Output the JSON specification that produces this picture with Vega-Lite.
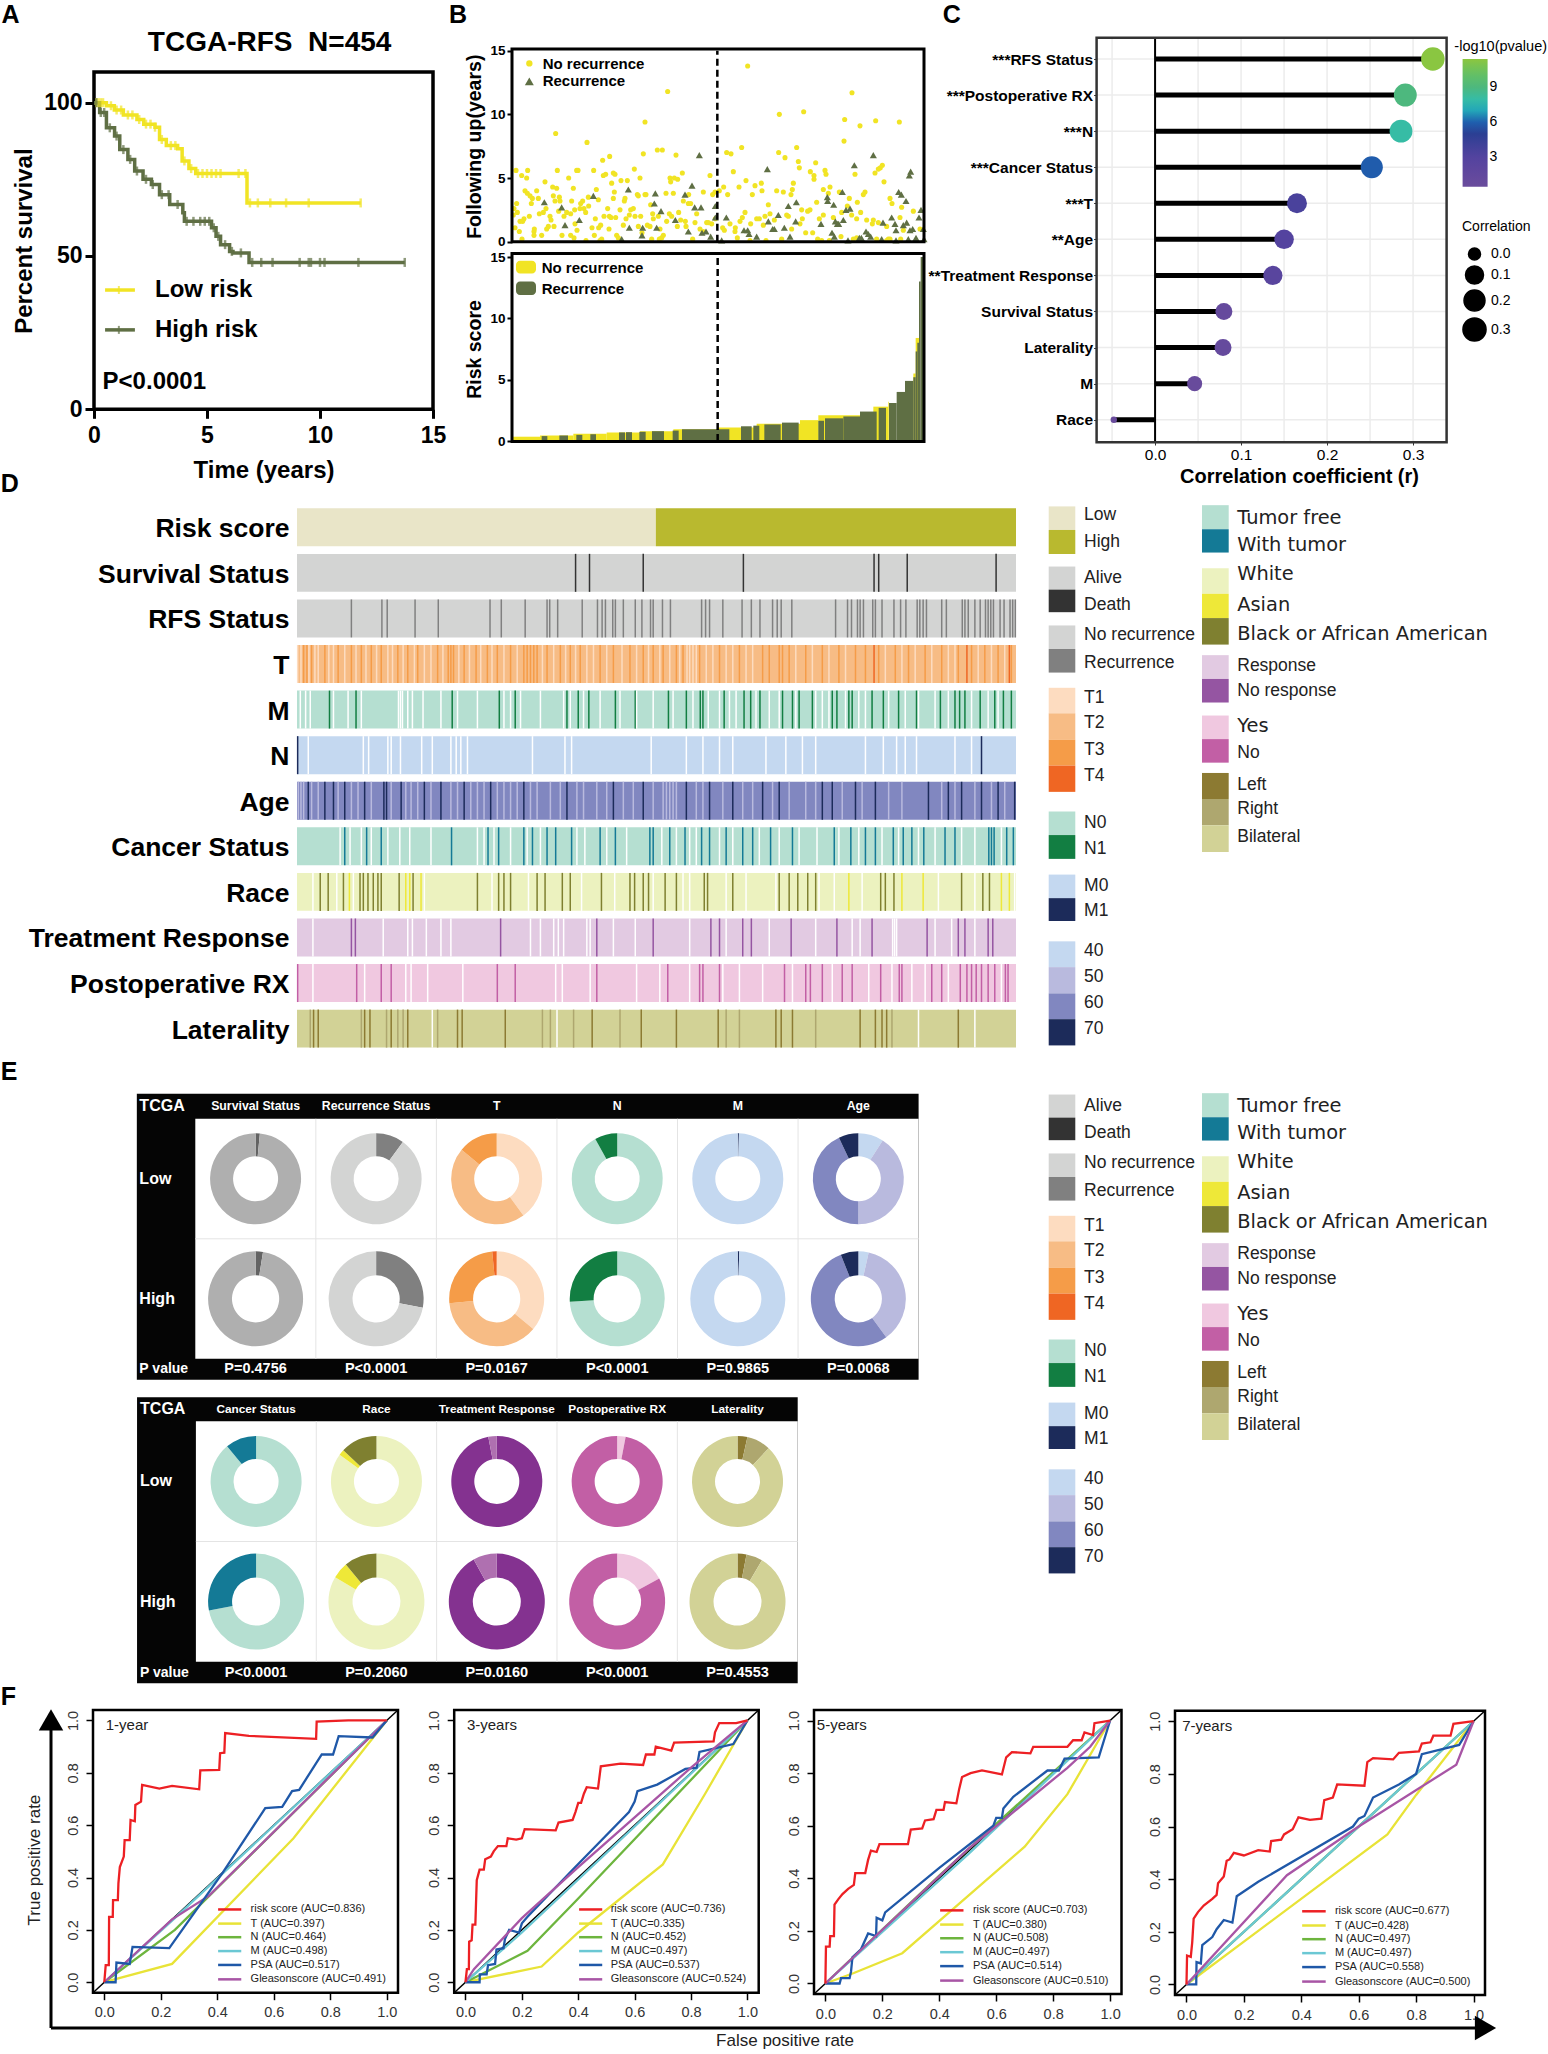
{"$schema":"https://vega.github.io/schema/vega-lite/v6.json","width":1548,"height":2054,"padding":0,"autosize":{"type":"none"},"background":"white",
"config":{"font":"Liberation Sans","view":{"stroke":null},"axis":{"grid":false,"domain":false,"labelFlush":false,"tickColor":"black","labelColor":"black","titleColor":"black"},"legend":{"labelColor":"black","titleColor":"black"}},
"resolve":{"scale":{"x":"independent","y":"independent","color":"independent","size":"independent","theta":"independent"},"axis":{"x":"independent","y":"independent"},"legend":{"color":"independent","size":"independent"}},
"datasets":{
"scN":[{"x":923,"y":13.8},{"x":683,"y":11.8},{"x":1236,"y":11.7},{"x":1091,"y":10.2},{"x":1018,"y":10},{"x":1214,"y":9.6},{"x":1307,"y":9.5},{"x":1378,"y":9.4},{"x":615,"y":9.4},{"x":1260,"y":9.1},{"x":347,"y":8.5},{"x":441,"y":7.8},{"x":1212,"y":7.9},{"x":652,"y":7.2},{"x":667,"y":7.2},{"x":610,"y":6.9},{"x":860,"y":7},{"x":873,"y":6.9},{"x":905,"y":7.4},{"x":708,"y":6.8},{"x":1016,"y":7},{"x":1070,"y":7.4},{"x":1035,"y":6.6},{"x":509,"y":6.7},{"x":488,"y":6.4},{"x":1075,"y":6.3},{"x":1127,"y":6.2},{"x":1078,"y":5.8},{"x":1327,"y":6},{"x":1321,"y":5.8},{"x":1315,"y":5.7},{"x":1305,"y":5.4},{"x":1245,"y":5.3},{"x":1111,"y":5.5},{"x":1122,"y":5.2},{"x":1155,"y":5.6},{"x":1158,"y":5.3},{"x":228,"y":5.6},{"x":263,"y":5.6},{"x":245,"y":5.2},{"x":260,"y":5},{"x":352,"y":5.6},{"x":410,"y":5.6},{"x":414,"y":5.6},{"x":461,"y":5.6},{"x":386,"y":5},{"x":497,"y":5.3},{"x":490,"y":5.2},{"x":520,"y":5.4},{"x":525,"y":5.3},{"x":583,"y":5.7},{"x":600,"y":5},{"x":690,"y":5},{"x":703,"y":5},{"x":713,"y":4.9},{"x":727,"y":5.4},{"x":810,"y":5.2},{"x":880,"y":5.5},{"x":918,"y":4.8},{"x":1122,"y":4.9},{"x":1060,"y":4.6},{"x":1332,"y":4.7},{"x":315,"y":4.7},{"x":338,"y":4.3},{"x":350,"y":4.2},{"x":400,"y":4.2},{"x":515,"y":4.6},{"x":543,"y":4.8},{"x":562,"y":4.8},{"x":692,"y":4.7},{"x":964,"y":4.6},{"x":945,"y":4.4},{"x":897,"y":4.3},{"x":851,"y":4.3},{"x":838,"y":4},{"x":825,"y":3.9},{"x":790,"y":3.9},{"x":818,"y":3.7},{"x":863,"y":3.7},{"x":255,"y":4},{"x":262,"y":3.8},{"x":270,"y":3.6},{"x":290,"y":4},{"x":277,"y":3.4},{"x":295,"y":3.4},{"x":274,"y":3},{"x":340,"y":3.6},{"x":345,"y":3.2},{"x":358,"y":3.5},{"x":360,"y":3.2},{"x":395,"y":3.2},{"x":428,"y":3.2},{"x":422,"y":3},{"x":445,"y":3.5},{"x":469,"y":4.1},{"x":475,"y":3.3},{"x":523,"y":3.9},{"x":520,"y":3.4},{"x":553,"y":3.2},{"x":555,"y":3.4},{"x":592,"y":3.7},{"x":595,"y":3.6},{"x":615,"y":3.7},{"x":618,"y":3.7},{"x":678,"y":3.8},{"x":700,"y":3.8},{"x":730,"y":3.2},{"x":745,"y":3},{"x":752,"y":3},{"x":746,"y":3.7},{"x":937,"y":3.7},{"x":966,"y":4},{"x":1010,"y":4},{"x":1030,"y":3.9},{"x":1053,"y":3.7},{"x":1057,"y":4.1},{"x":1150,"y":4.1},{"x":1170,"y":4.3},{"x":1165,"y":3.8},{"x":1198,"y":3.9},{"x":1275,"y":3.9},{"x":1270,"y":3.7},{"x":1350,"y":3.4},{"x":1356,"y":3},{"x":1130,"y":3.1},{"x":1252,"y":3.1},{"x":1228,"y":3.4},{"x":1222,"y":2.8},{"x":1385,"y":2.7},{"x":1420,"y":2.4},{"x":1262,"y":2.3},{"x":1235,"y":2.1},{"x":1250,"y":1.8},{"x":1280,"y":1.7},{"x":1300,"y":1.7},{"x":1315,"y":1.5},{"x":1340,"y":1.2},{"x":1380,"y":1.9},{"x":1390,"y":0.9},{"x":1440,"y":1},{"x":1297,"y":1.4},{"x":1205,"y":2.3},{"x":1180,"y":1.9},{"x":220,"y":2.1},{"x":222,"y":2.6},{"x":230,"y":3},{"x":232,"y":2.3},{"x":225,"y":1.1},{"x":238,"y":0.8},{"x":240,"y":1.6},{"x":248,"y":1.6},{"x":252,"y":1.8},{"x":246,"y":0.2},{"x":268,"y":2},{"x":283,"y":1},{"x":282,"y":0.8},{"x":282,"y":0.5},{"x":305,"y":0.5},{"x":298,"y":2.2},{"x":310,"y":2.3},{"x":318,"y":2.6},{"x":320,"y":1},{"x":325,"y":1.2},{"x":330,"y":2},{"x":333,"y":1.7},{"x":342,"y":1.2},{"x":356,"y":2.4},{"x":366,"y":0.5},{"x":372,"y":2},{"x":380,"y":2.3},{"x":392,"y":0.5},{"x":402,"y":0.3},{"x":392,"y":2.2},{"x":405,"y":1.4},{"x":411,"y":0.9},{"x":404,"y":2.5},{"x":420,"y":2.6},{"x":432,"y":2.6},{"x":437,"y":2.3},{"x":446,"y":2.8},{"x":438,"y":0.1},{"x":456,"y":1.1},{"x":463,"y":0.5},{"x":466,"y":1.8},{"x":476,"y":1.1},{"x":482,"y":1.3},{"x":480,"y":0.1},{"x":485,"y":0.2},{"x":492,"y":2},{"x":503,"y":2.6},{"x":508,"y":2},{"x":507,"y":1},{"x":513,"y":1.9},{"x":527,"y":1.9},{"x":530,"y":0.5},{"x":535,"y":0.3},{"x":540,"y":2.5},{"x":550,"y":1.3},{"x":558,"y":1.8},{"x":568,"y":2.1},{"x":572,"y":2.5},{"x":580,"y":2.6},{"x":585,"y":2},{"x":602,"y":2},{"x":595,"y":1.2},{"x":606,"y":0.7},{"x":622,"y":1.3},{"x":630,"y":1.2},{"x":632,"y":2.9},{"x":638,"y":2.2},{"x":640,"y":1.8},{"x":655,"y":2},{"x":660,"y":1},{"x":635,"y":0.2},{"x":658,"y":0.2},{"x":665,"y":0.3},{"x":670,"y":0.5},{"x":680,"y":1.6},{"x":688,"y":2.2},{"x":695,"y":2},{"x":712,"y":1.2},{"x":716,"y":2.3},{"x":722,"y":1.7},{"x":736,"y":1.6},{"x":738,"y":1.2},{"x":758,"y":0.2},{"x":765,"y":1.5},{"x":770,"y":2.2},{"x":780,"y":1},{"x":790,"y":0.8},{"x":800,"y":1.5},{"x":805,"y":1.5},{"x":815,"y":1.4},{"x":826,"y":1.8},{"x":848,"y":1.1},{"x":853,"y":0.9},{"x":870,"y":1.4},{"x":886,"y":1.1},{"x":885,"y":0.8},{"x":892,"y":0.3},{"x":900,"y":1.6},{"x":907,"y":1.9},{"x":915,"y":2.3},{"x":932,"y":1.4},{"x":930,"y":0.1},{"x":950,"y":1.8},{"x":958,"y":1.8},{"x":970,"y":1.3},{"x":978,"y":0.1},{"x":975,"y":2},{"x":985,"y":2.9},{"x":990,"y":2.2},{"x":1003,"y":1.7},{"x":1025,"y":0.2},{"x":1040,"y":2.1},{"x":1045,"y":2},{"x":1055,"y":1},{"x":1080,"y":1.4},{"x":1085,"y":2.5},{"x":1087,"y":1.8},{"x":1097,"y":0.7},{"x":1103,"y":2.4},{"x":1110,"y":2.5},{"x":1118,"y":0.7},{"x":1133,"y":0.2},{"x":1138,"y":1.8},{"x":1150,"y":2.1},{"x":1145,"y":0.1},{"x":1168,"y":0.1},{"x":1203,"y":0.4},{"x":1240,"y":0.2},{"x":1250,"y":0.3},{"x":1310,"y":0.2},{"x":1340,"y":0.1},{"x":1345,"y":0.2},{"x":1350,"y":0.2},{"x":1382,"y":0.2}],
"scR":[{"x":313,"y":3.1},{"x":365,"y":2.7},{"x":375,"y":1.3},{"x":418,"y":1.7},{"x":460,"y":3.6},{"x":545,"y":0.2},{"x":565,"y":4.1},{"x":568,"y":1.1},{"x":606,"y":0.5},{"x":608,"y":1.1},{"x":643,"y":3},{"x":646,"y":3.8},{"x":650,"y":1.1},{"x":663,"y":2.4},{"x":706,"y":1.7},{"x":735,"y":3.7},{"x":745,"y":0.8},{"x":756,"y":4.4},{"x":764,"y":2.7},{"x":783,"y":2.7},{"x":778,"y":6.8},{"x":786,"y":0.7},{"x":798,"y":0.8},{"x":812,"y":0.4},{"x":826,"y":2.8},{"x":826,"y":1.9},{"x":845,"y":0.1},{"x":859,"y":1.9},{"x":912,"y":0.9},{"x":923,"y":0.9},{"x":927,"y":0.6},{"x":950,"y":0.4},{"x":982,"y":5.7},{"x":985,"y":1.6},{"x":998,"y":1},{"x":1003,"y":1},{"x":1015,"y":2.1},{"x":1033,"y":1.1},{"x":1045,"y":2.8},{"x":1050,"y":0.4},{"x":1067,"y":1.6},{"x":1069,"y":3.1},{"x":1143,"y":1.4},{"x":1162,"y":3.5},{"x":1163,"y":3.2},{"x":1176,"y":0.7},{"x":1181,"y":2.9},{"x":1183,"y":0.4},{"x":1186,"y":1.6},{"x":1192,"y":1.4},{"x":1196,"y":1.4},{"x":1207,"y":3.9},{"x":1210,"y":1.7},{"x":1218,"y":2.5},{"x":1230,"y":2.6},{"x":1224,"y":0.1},{"x":1243,"y":6},{"x":1258,"y":0.3},{"x":1264,"y":0.3},{"x":1278,"y":0.8},{"x":1285,"y":0.6},{"x":1292,"y":0.4},{"x":1300,"y":6.8},{"x":1325,"y":0.2},{"x":1329,"y":1.5},{"x":1355,"y":1.9},{"x":1365,"y":1.4},{"x":1368,"y":0.9},{"x":1368,"y":0.1},{"x":1376,"y":3.9},{"x":1384,"y":3.7},{"x":1390,"y":1.3},{"x":1398,"y":3.2},{"x":1400,"y":1.5},{"x":1405,"y":0.2},{"x":1408,"y":5.2},{"x":1412,"y":5.5},{"x":1410,"y":0.9},{"x":1418,"y":1},{"x":1428,"y":0.3},{"x":1437,"y":1.9},{"x":1443,"y":2.5},{"x":1452,"y":0.2},{"x":1450,"y":1}],
"hb":[{"t":"R","c":"Low","x":448,"x2":989},{"t":"R","c":"High","x":989,"x2":1532},{"t":"S","c":"Alive","x":448,"x2":1532},{"t":"F","c":"NoRec","x":448,"x2":1532},{"t":"T","c":"T2","x":448,"x2":1532},{"t":"M","c":"N0","x":448,"x2":1532},{"t":"N","c":"M0","x":448,"x2":1532},{"t":"A","c":"a60","x":448,"x2":1532},{"t":"C","c":"TF","x":448,"x2":1532},{"t":"K","c":"White","x":448,"x2":1532},{"t":"X","c":"Resp","x":448,"x2":1532},{"t":"P","c":"Yes","x":448,"x2":1532},{"t":"L","c":"Bil","x":448,"x2":1532}],
"hs":[{"t":"S","c":"Death","x":868},{"t":"S","c":"Death","x":889},{"t":"S","c":"Death","x":970},{"t":"S","c":"Death","x":1121},{"t":"S","c":"Death","x":1318},{"t":"S","c":"Death","x":1325},{"t":"S","c":"Death","x":1368},{"t":"S","c":"Death","x":1502},
{"t":"F","c":"Rec","x":530},{"t":"F","c":"Rec","x":576},{"t":"F","c":"Rec","x":584},{"t":"F","c":"Rec","x":626},{"t":"F","c":"Rec","x":661},{"t":"F","c":"Rec","x":739},{"t":"F","c":"Rec","x":756},{"t":"F","c":"Rec","x":792},{"t":"F","c":"Rec","x":825},{"t":"F","c":"Rec","x":829},{"t":"F","c":"Rec","x":841},{"t":"F","c":"Rec","x":878},{"t":"F","c":"Rec","x":901},{"t":"F","c":"Rec","x":908},{"t":"F","c":"Rec","x":913},{"t":"F","c":"Rec","x":924},{"t":"F","c":"Rec","x":928},{"t":"F","c":"Rec","x":940},{"t":"F","c":"Rec","x":958},{"t":"F","c":"Rec","x":968},{"t":"F","c":"Rec","x":981},{"t":"F","c":"Rec","x":985},{"t":"F","c":"Rec","x":999},{"t":"F","c":"Rec","x":1011},{"t":"F","c":"Rec","x":1058},{"t":"F","c":"Rec","x":1064},{"t":"F","c":"Rec","x":1070},{"t":"F","c":"Rec","x":1090},{"t":"F","c":"Rec","x":1119},{"t":"F","c":"Rec","x":1133},{"t":"F","c":"Rec","x":1146},{"t":"F","c":"Rec","x":1165},{"t":"F","c":"Rec","x":1172},{"t":"F","c":"Rec","x":1178},{"t":"F","c":"Rec","x":1194},{"t":"F","c":"Rec","x":1260},{"t":"F","c":"Rec","x":1278},{"t":"F","c":"Rec","x":1284},{"t":"F","c":"Rec","x":1293},{"t":"F","c":"Rec","x":1297},{"t":"F","c":"Rec","x":1302},{"t":"F","c":"Rec","x":1316},{"t":"F","c":"Rec","x":1320},{"t":"F","c":"Rec","x":1330},{"t":"F","c":"Rec","x":1348},{"t":"F","c":"Rec","x":1358},{"t":"F","c":"Rec","x":1366},{"t":"F","c":"Rec","x":1383},{"t":"F","c":"Rec","x":1387},{"t":"F","c":"Rec","x":1392},{"t":"F","c":"Rec","x":1397},{"t":"F","c":"Rec","x":1420},{"t":"F","c":"Rec","x":1427},{"t":"F","c":"Rec","x":1451},{"t":"F","c":"Rec","x":1455},{"t":"F","c":"Rec","x":1460},{"t":"F","c":"Rec","x":1470},{"t":"F","c":"Rec","x":1478},{"t":"F","c":"Rec","x":1486},{"t":"F","c":"Rec","x":1490},{"t":"F","c":"Rec","x":1494},{"t":"F","c":"Rec","x":1498},{"t":"F","c":"Rec","x":1508},{"t":"F","c":"Rec","x":1514},{"t":"F","c":"Rec","x":1523},{"t":"F","c":"Rec","x":1527},{"t":"F","c":"Rec","x":1531},
{"t":"T","c":"T3","x":458},{"t":"T","c":"T3","x":463},{"t":"T","c":"T3","x":470},{"t":"T","c":"T3","x":490},{"t":"T","c":"T3","x":510},{"t":"T","c":"T3","x":530},{"t":"T","c":"T3","x":545},{"t":"T","c":"T3","x":560},{"t":"T","c":"T3","x":575},{"t":"T","c":"T3","x":600},{"t":"T","c":"T3","x":615},{"t":"T","c":"T3","x":630},{"t":"T","c":"T3","x":660},{"t":"T","c":"T3","x":676},{"t":"T","c":"T3","x":680},{"t":"T","c":"T3","x":684},{"t":"T","c":"T3","x":700},{"t":"T","c":"T3","x":718},{"t":"T","c":"T3","x":735},{"t":"T","c":"T3","x":750},{"t":"T","c":"T3","x":770},{"t":"T","c":"T3","x":790},{"t":"T","c":"T3","x":795},{"t":"T","c":"T3","x":800},{"t":"T","c":"T3","x":805},{"t":"T","c":"T3","x":810},{"t":"T","c":"T3","x":825},{"t":"T","c":"T3","x":845},{"t":"T","c":"T3","x":860},{"t":"T","c":"T3","x":875},{"t":"T","c":"T3","x":905},{"t":"T","c":"T3","x":925},{"t":"T","c":"T3","x":950},{"t":"T","c":"T3","x":970},{"t":"T","c":"T3","x":985},{"t":"T","c":"T3","x":1000},{"t":"T","c":"T3","x":1020},{"t":"T","c":"T3","x":1030},{"t":"T","c":"T3","x":1055},{"t":"T","c":"T3","x":1085},{"t":"T","c":"T3","x":1115},{"t":"T","c":"T3","x":1150},{"t":"T","c":"T3","x":1160},{"t":"T","c":"T3","x":1175},{"t":"T","c":"T3","x":1180},{"t":"T","c":"T3","x":1190},{"t":"T","c":"T3","x":1215},{"t":"T","c":"T3","x":1240},{"t":"T","c":"T3","x":1265},{"t":"T","c":"T3","x":1290},{"t":"T","c":"T3","x":1305},{"t":"T","c":"T3","x":1325},{"t":"T","c":"T3","x":1350},{"t":"T","c":"T3","x":1370},{"t":"T","c":"T3","x":1395},{"t":"T","c":"T3","x":1420},{"t":"T","c":"T3","x":1445},{"t":"T","c":"T3","x":1465},{"t":"T","c":"T3","x":1485},{"t":"T","c":"T3","x":1505},{"t":"T","c":"T3","x":1525},
{"t":"T","c":"T1","x":449},{"t":"T","c":"T1","x":454},{"t":"T","c":"T1","x":466},{"t":"T","c":"T1","x":475},{"t":"T","c":"T1","x":480},{"t":"T","c":"T1","x":496},{"t":"T","c":"T1","x":503},{"t":"T","c":"T1","x":520},{"t":"T","c":"T1","x":537},{"t":"T","c":"T1","x":552},{"t":"T","c":"T1","x":568},{"t":"T","c":"T1","x":585},{"t":"T","c":"T1","x":592},{"t":"T","c":"T1","x":608},{"t":"T","c":"T1","x":625},{"t":"T","c":"T1","x":640},{"t":"T","c":"T1","x":650},{"t":"T","c":"T1","x":668},{"t":"T","c":"T1","x":692},{"t":"T","c":"T1","x":708},{"t":"T","c":"T1","x":725},{"t":"T","c":"T1","x":742},{"t":"T","c":"T1","x":760},{"t":"T","c":"T1","x":780},{"t":"T","c":"T1","x":818},{"t":"T","c":"T1","x":835},{"t":"T","c":"T1","x":853},{"t":"T","c":"T1","x":868},{"t":"T","c":"T1","x":885},{"t":"T","c":"T1","x":895},{"t":"T","c":"T1","x":915},{"t":"T","c":"T1","x":938},{"t":"T","c":"T1","x":960},{"t":"T","c":"T1","x":978},{"t":"T","c":"T1","x":995},{"t":"T","c":"T1","x":1010},{"t":"T","c":"T1","x":1025},{"t":"T","c":"T1","x":1036},{"t":"T","c":"T1","x":1040},{"t":"T","c":"T1","x":1045},{"t":"T","c":"T1","x":1050},{"t":"T","c":"T1","x":1065},{"t":"T","c":"T1","x":1075},{"t":"T","c":"T1","x":1095},{"t":"T","c":"T1","x":1105},{"t":"T","c":"T1","x":1125},{"t":"T","c":"T1","x":1135},{"t":"T","c":"T1","x":1200},{"t":"T","c":"T1","x":1225},{"t":"T","c":"T1","x":1250},{"t":"T","c":"T1","x":1275},{"t":"T","c":"T1","x":1335},{"t":"T","c":"T1","x":1360},{"t":"T","c":"T1","x":1380},{"t":"T","c":"T1","x":1405},{"t":"T","c":"T1","x":1430},{"t":"T","c":"T1","x":1440},{"t":"T","c":"T1","x":1475},{"t":"T","c":"T1","x":1495},{"t":"T","c":"T1","x":1515},{"t":"T","c":"T4","x":1318},{"t":"T","c":"T4","x":1458},{"t":"T","c":"T4","x":1522},
{"t":"M","c":"N1","x":497},{"t":"M","c":"N1","x":537},{"t":"M","c":"N1","x":682},{"t":"M","c":"N1","x":753},{"t":"M","c":"N1","x":777},{"t":"M","c":"N1","x":855},{"t":"M","c":"N1","x":872},{"t":"M","c":"N1","x":888},{"t":"M","c":"N1","x":928},{"t":"M","c":"N1","x":958},{"t":"M","c":"N1","x":1008},{"t":"M","c":"N1","x":1035},{"t":"M","c":"N1","x":1056},{"t":"M","c":"N1","x":1060},{"t":"M","c":"N1","x":1092},{"t":"M","c":"N1","x":1122},{"t":"M","c":"N1","x":1132},{"t":"M","c":"N1","x":1146},{"t":"M","c":"N1","x":1180},{"t":"M","c":"N1","x":1195},{"t":"M","c":"N1","x":1205},{"t":"M","c":"N1","x":1225},{"t":"M","c":"N1","x":1255},{"t":"M","c":"N1","x":1262},{"t":"M","c":"N1","x":1280},{"t":"M","c":"N1","x":1285},{"t":"M","c":"N1","x":1315},{"t":"M","c":"N1","x":1332},{"t":"M","c":"N1","x":1355},{"t":"M","c":"N1","x":1382},{"t":"M","c":"N1","x":1418},{"t":"M","c":"N1","x":1440},{"t":"M","c":"N1","x":1447},{"t":"M","c":"N1","x":1455},{"t":"M","c":"N1","x":1478},{"t":"M","c":"N1","x":1500},{"t":"M","c":"N1","x":1513},{"t":"M","c":"N1","x":1525},
{"t":"M","c":"NA","x":453},{"t":"M","c":"NA","x":461},{"t":"M","c":"NA","x":468},{"t":"M","c":"NA","x":503},{"t":"M","c":"NA","x":525},{"t":"M","c":"NA","x":545},{"t":"M","c":"NA","x":601},{"t":"M","c":"NA","x":604},{"t":"M","c":"NA","x":607},{"t":"M","c":"NA","x":615},{"t":"M","c":"NA","x":622},{"t":"M","c":"NA","x":638},{"t":"M","c":"NA","x":665},{"t":"M","c":"NA","x":690},{"t":"M","c":"NA","x":720},{"t":"M","c":"NA","x":760},{"t":"M","c":"NA","x":770},{"t":"M","c":"NA","x":785},{"t":"M","c":"NA","x":815},{"t":"M","c":"NA","x":850},{"t":"M","c":"NA","x":860},{"t":"M","c":"NA","x":880},{"t":"M","c":"NA","x":905},{"t":"M","c":"NA","x":935},{"t":"M","c":"NA","x":960},{"t":"M","c":"NA","x":985},{"t":"M","c":"NA","x":1015},{"t":"M","c":"NA","x":1045},{"t":"M","c":"NA","x":1068},{"t":"M","c":"NA","x":1085},{"t":"M","c":"NA","x":1100},{"t":"M","c":"NA","x":1110},{"t":"M","c":"NA","x":1140},{"t":"M","c":"NA","x":1160},{"t":"M","c":"NA","x":1175},{"t":"M","c":"NA","x":1200},{"t":"M","c":"NA","x":1230},{"t":"M","c":"NA","x":1240},{"t":"M","c":"NA","x":1250},{"t":"M","c":"NA","x":1275},{"t":"M","c":"NA","x":1295},{"t":"M","c":"NA","x":1305},{"t":"M","c":"NA","x":1340},{"t":"M","c":"NA","x":1365},{"t":"M","c":"NA","x":1385},{"t":"M","c":"NA","x":1410},{"t":"M","c":"NA","x":1430},{"t":"M","c":"NA","x":1465},{"t":"M","c":"NA","x":1490},{"t":"M","c":"NA","x":1505},
{"t":"N","c":"M1","x":449},{"t":"N","c":"M1","x":1480},{"t":"N","c":"NA","x":465},{"t":"N","c":"NA","x":548},{"t":"N","c":"NA","x":556},{"t":"N","c":"NA","x":585},{"t":"N","c":"NA","x":590},{"t":"N","c":"NA","x":604},{"t":"N","c":"NA","x":636},{"t":"N","c":"NA","x":652},{"t":"N","c":"NA","x":680},{"t":"N","c":"NA","x":688},{"t":"N","c":"NA","x":695},{"t":"N","c":"NA","x":705},{"t":"N","c":"NA","x":803},{"t":"N","c":"NA","x":852},{"t":"N","c":"NA","x":862},{"t":"N","c":"NA","x":982},{"t":"N","c":"NA","x":1035},{"t":"N","c":"NA","x":1060},{"t":"N","c":"NA","x":1085},{"t":"N","c":"NA","x":1105},{"t":"N","c":"NA","x":1155},{"t":"N","c":"NA","x":1185},{"t":"N","c":"NA","x":1210},{"t":"N","c":"NA","x":1230},{"t":"N","c":"NA","x":1305},{"t":"N","c":"NA","x":1332},{"t":"N","c":"NA","x":1352},{"t":"N","c":"NA","x":1365},{"t":"N","c":"NA","x":1382},{"t":"N","c":"NA","x":1440},{"t":"N","c":"NA","x":1465},
{"t":"A","c":"a50","x":450},{"t":"A","c":"a50","x":454},{"t":"A","c":"a50","x":458},{"t":"A","c":"a50","x":470},{"t":"A","c":"a50","x":480},{"t":"A","c":"a50","x":510},{"t":"A","c":"a50","x":530},{"t":"A","c":"a50","x":540},{"t":"A","c":"a50","x":560},{"t":"A","c":"a50","x":590},{"t":"A","c":"a50","x":612},{"t":"A","c":"a50","x":620},{"t":"A","c":"a50","x":630},{"t":"A","c":"a50","x":650},{"t":"A","c":"a50","x":680},{"t":"A","c":"a50","x":690},{"t":"A","c":"a50","x":710},{"t":"A","c":"a50","x":720},{"t":"A","c":"a50","x":730},{"t":"A","c":"a50","x":750},{"t":"A","c":"a50","x":760},{"t":"A","c":"a50","x":770},{"t":"A","c":"a50","x":780},{"t":"A","c":"a50","x":800},{"t":"A","c":"a50","x":810},{"t":"A","c":"a50","x":830},{"t":"A","c":"a50","x":845},{"t":"A","c":"a50","x":870},{"t":"A","c":"a50","x":880},{"t":"A","c":"a50","x":900},{"t":"A","c":"a50","x":915},{"t":"A","c":"a50","x":940},{"t":"A","c":"a50","x":955},{"t":"A","c":"a50","x":985},{"t":"A","c":"a50","x":1000},{"t":"A","c":"a50","x":1005},{"t":"A","c":"a50","x":1010},{"t":"A","c":"a50","x":1015},{"t":"A","c":"a50","x":1020},{"t":"A","c":"a50","x":1050},{"t":"A","c":"a50","x":1060},{"t":"A","c":"a50","x":1090},{"t":"A","c":"a50","x":1120},{"t":"A","c":"a50","x":1135},{"t":"A","c":"a50","x":1165},{"t":"A","c":"a50","x":1190},{"t":"A","c":"a50","x":1215},{"t":"A","c":"a50","x":1230},{"t":"A","c":"a50","x":1270},{"t":"A","c":"a50","x":1300},{"t":"A","c":"a50","x":1340},{"t":"A","c":"a50","x":1360},{"t":"A","c":"a50","x":1420},{"t":"A","c":"a50","x":1440},{"t":"A","c":"a50","x":1470},{"t":"A","c":"a50","x":1495},{"t":"A","c":"a50","x":1515},
{"t":"A","c":"a70","x":465},{"t":"A","c":"a70","x":490},{"t":"A","c":"a70","x":503},{"t":"A","c":"a70","x":520},{"t":"A","c":"a70","x":550},{"t":"A","c":"a70","x":579},{"t":"A","c":"a70","x":583},{"t":"A","c":"a70","x":605},{"t":"A","c":"a70","x":640},{"t":"A","c":"a70","x":665},{"t":"A","c":"a70","x":700},{"t":"A","c":"a70","x":740},{"t":"A","c":"a70","x":790},{"t":"A","c":"a70","x":855},{"t":"A","c":"a70","x":925},{"t":"A","c":"a70","x":970},{"t":"A","c":"a70","x":1035},{"t":"A","c":"a70","x":1070},{"t":"A","c":"a70","x":1105},{"t":"A","c":"a70","x":1150},{"t":"A","c":"a70","x":1175},{"t":"A","c":"a70","x":1240},{"t":"A","c":"a70","x":1255},{"t":"A","c":"a70","x":1290},{"t":"A","c":"a70","x":1320},{"t":"A","c":"a70","x":1400},{"t":"A","c":"a70","x":1430},{"t":"A","c":"a70","x":1450},{"t":"A","c":"a70","x":1480},{"t":"A","c":"a70","x":1505},{"t":"A","c":"a70","x":1530},
{"t":"C","c":"WT","x":520},{"t":"C","c":"WT","x":553},{"t":"C","c":"WT","x":575},{"t":"C","c":"WT","x":681},{"t":"C","c":"WT","x":736},{"t":"C","c":"WT","x":752},{"t":"C","c":"WT","x":790},{"t":"C","c":"WT","x":803},{"t":"C","c":"WT","x":825},{"t":"C","c":"WT","x":838},{"t":"C","c":"WT","x":862},{"t":"C","c":"WT","x":905},{"t":"C","c":"WT","x":928},{"t":"C","c":"WT","x":980},{"t":"C","c":"WT","x":985},{"t":"C","c":"WT","x":1010},{"t":"C","c":"WT","x":1033},{"t":"C","c":"WT","x":1058},{"t":"C","c":"WT","x":1070},{"t":"C","c":"WT","x":1095},{"t":"C","c":"WT","x":1120},{"t":"C","c":"WT","x":1135},{"t":"C","c":"WT","x":1162},{"t":"C","c":"WT","x":1195},{"t":"C","c":"WT","x":1258},{"t":"C","c":"WT","x":1283},{"t":"C","c":"WT","x":1305},{"t":"C","c":"WT","x":1320},{"t":"C","c":"WT","x":1347},{"t":"C","c":"WT","x":1362},{"t":"C","c":"WT","x":1375},{"t":"C","c":"WT","x":1393},{"t":"C","c":"WT","x":1425},{"t":"C","c":"WT","x":1440},{"t":"C","c":"WT","x":1491},{"t":"C","c":"WT","x":1495},{"t":"C","c":"WT","x":1499},{"t":"C","c":"WT","x":1518},{"t":"C","c":"WT","x":1528},
{"t":"C","c":"NA","x":513},{"t":"C","c":"NA","x":528},{"t":"C","c":"NA","x":545},{"t":"C","c":"NA","x":560},{"t":"C","c":"NA","x":585},{"t":"C","c":"NA","x":603},{"t":"C","c":"NA","x":618},{"t":"C","c":"NA","x":650},{"t":"C","c":"NA","x":720},{"t":"C","c":"NA","x":730},{"t":"C","c":"NA","x":745},{"t":"C","c":"NA","x":770},{"t":"C","c":"NA","x":795},{"t":"C","c":"NA","x":815},{"t":"C","c":"NA","x":870},{"t":"C","c":"NA","x":882},{"t":"C","c":"NA","x":915},{"t":"C","c":"NA","x":945},{"t":"C","c":"NA","x":998},{"t":"C","c":"NA","x":1020},{"t":"C","c":"NA","x":1040},{"t":"C","c":"NA","x":1050},{"t":"C","c":"NA","x":1085},{"t":"C","c":"NA","x":1105},{"t":"C","c":"NA","x":1145},{"t":"C","c":"NA","x":1175},{"t":"C","c":"NA","x":1205},{"t":"C","c":"NA","x":1232},{"t":"C","c":"NA","x":1265},{"t":"C","c":"NA","x":1295},{"t":"C","c":"NA","x":1330},{"t":"C","c":"NA","x":1355},{"t":"C","c":"NA","x":1385},{"t":"C","c":"NA","x":1410},{"t":"C","c":"NA","x":1450},{"t":"C","c":"NA","x":1470},{"t":"C","c":"NA","x":1510},
{"t":"K","c":"Black","x":483},{"t":"K","c":"Black","x":495},{"t":"K","c":"Black","x":518},{"t":"K","c":"Black","x":543},{"t":"K","c":"Black","x":548},{"t":"K","c":"Black","x":555},{"t":"K","c":"Black","x":563},{"t":"K","c":"Black","x":570},{"t":"K","c":"Black","x":575},{"t":"K","c":"Black","x":602},{"t":"K","c":"Black","x":623},{"t":"K","c":"Black","x":720},{"t":"K","c":"Black","x":752},{"t":"K","c":"Black","x":760},{"t":"K","c":"Black","x":770},{"t":"K","c":"Black","x":810},{"t":"K","c":"Black","x":822},{"t":"K","c":"Black","x":848},{"t":"K","c":"Black","x":860},{"t":"K","c":"Black","x":907},{"t":"K","c":"Black","x":950},{"t":"K","c":"Black","x":957},{"t":"K","c":"Black","x":970},{"t":"K","c":"Black","x":978},{"t":"K","c":"Black","x":1003},{"t":"K","c":"Black","x":1020},{"t":"K","c":"Black","x":1062},{"t":"K","c":"Black","x":1067},{"t":"K","c":"Black","x":1105},{"t":"K","c":"Black","x":1175},{"t":"K","c":"Black","x":1190},{"t":"K","c":"Black","x":1203},{"t":"K","c":"Black","x":1218},{"t":"K","c":"Black","x":1230},{"t":"K","c":"Black","x":1328},{"t":"K","c":"Black","x":1335},{"t":"K","c":"Black","x":1348},{"t":"K","c":"Black","x":1450},{"t":"K","c":"Black","x":1482},{"t":"K","c":"Black","x":1492},
{"t":"K","c":"Asian","x":527},{"t":"K","c":"Asian","x":612},{"t":"K","c":"Asian","x":618},{"t":"K","c":"Asian","x":635},{"t":"K","c":"Asian","x":1280},{"t":"K","c":"Asian","x":1360},{"t":"K","c":"Asian","x":1392},{"t":"K","c":"Asian","x":1510},{"t":"K","c":"Asian","x":1522},{"t":"K","c":"NA","x":472},{"t":"K","c":"NA","x":508},{"t":"K","c":"NA","x":533},{"t":"K","c":"NA","x":640},{"t":"K","c":"NA","x":742},{"t":"K","c":"NA","x":797},{"t":"K","c":"NA","x":877},{"t":"K","c":"NA","x":927},{"t":"K","c":"NA","x":985},{"t":"K","c":"NA","x":1030},{"t":"K","c":"NA","x":1040},{"t":"K","c":"NA","x":1095},{"t":"K","c":"NA","x":1125},{"t":"K","c":"NA","x":1170},{"t":"K","c":"NA","x":1235},{"t":"K","c":"NA","x":1258},{"t":"K","c":"NA","x":1300},{"t":"K","c":"NA","x":1415},{"t":"K","c":"NA","x":1470},{"t":"K","c":"NA","x":1530},
{"t":"X","c":"NR","x":530},{"t":"X","c":"NR","x":536},{"t":"X","c":"NR","x":755},{"t":"X","c":"NR","x":900},{"t":"X","c":"NR","x":985},{"t":"X","c":"NR","x":1072},{"t":"X","c":"NR","x":1085},{"t":"X","c":"NR","x":1120},{"t":"X","c":"NR","x":1133},{"t":"X","c":"NR","x":1193},{"t":"X","c":"NR","x":1262},{"t":"X","c":"NR","x":1315},{"t":"X","c":"NR","x":1398},{"t":"X","c":"NR","x":1445},{"t":"X","c":"NR","x":1455},{"t":"X","c":"NR","x":1490},{"t":"X","c":"NR","x":1497},{"t":"X","c":"NA","x":472},{"t":"X","c":"NA","x":578},{"t":"X","c":"NA","x":615},{"t":"X","c":"NA","x":622},{"t":"X","c":"NA","x":643},{"t":"X","c":"NA","x":665},{"t":"X","c":"NA","x":680},{"t":"X","c":"NA","x":800},{"t":"X","c":"NA","x":815},{"t":"X","c":"NA","x":835},{"t":"X","c":"NA","x":842},{"t":"X","c":"NA","x":850},{"t":"X","c":"NA","x":885},{"t":"X","c":"NA","x":890},{"t":"X","c":"NA","x":925},{"t":"X","c":"NA","x":958},{"t":"X","c":"NA","x":1040},{"t":"X","c":"NA","x":1095},{"t":"X","c":"NA","x":1160},{"t":"X","c":"NA","x":1230},{"t":"X","c":"NA","x":1285},{"t":"X","c":"NA","x":1297},{"t":"X","c":"NA","x":1346},{"t":"X","c":"NA","x":1349},{"t":"X","c":"NA","x":1352},{"t":"X","c":"NA","x":1410},{"t":"X","c":"NA","x":1435},{"t":"X","c":"NA","x":1470},
{"t":"P","c":"No","x":449},{"t":"P","c":"No","x":538},{"t":"P","c":"No","x":575},{"t":"P","c":"No","x":590},{"t":"P","c":"No","x":750},{"t":"P","c":"No","x":777},{"t":"P","c":"No","x":900},{"t":"P","c":"No","x":1007},{"t":"P","c":"No","x":1055},{"t":"P","c":"No","x":1060},{"t":"P","c":"No","x":1085},{"t":"P","c":"No","x":1183},{"t":"P","c":"No","x":1215},{"t":"P","c":"No","x":1222},{"t":"P","c":"No","x":1240},{"t":"P","c":"No","x":1270},{"t":"P","c":"No","x":1285},{"t":"P","c":"No","x":1328},{"t":"P","c":"No","x":1356},{"t":"P","c":"No","x":1360},{"t":"P","c":"No","x":1405},{"t":"P","c":"No","x":1420},{"t":"P","c":"No","x":1448},{"t":"P","c":"No","x":1458},{"t":"P","c":"No","x":1465},{"t":"P","c":"No","x":1472},{"t":"P","c":"No","x":1480},{"t":"P","c":"No","x":1490},{"t":"P","c":"No","x":1500},{"t":"P","c":"No","x":1516},{"t":"P","c":"No","x":1520},{"t":"P","c":"NA","x":472},{"t":"P","c":"NA","x":550},{"t":"P","c":"NA","x":612},{"t":"P","c":"NA","x":620},{"t":"P","c":"NA","x":645},{"t":"P","c":"NA","x":698},{"t":"P","c":"NA","x":838},{"t":"P","c":"NA","x":848},{"t":"P","c":"NA","x":890},{"t":"P","c":"NA","x":960},{"t":"P","c":"NA","x":995},{"t":"P","c":"NA","x":1040},{"t":"P","c":"NA","x":1090},{"t":"P","c":"NA","x":1115},{"t":"P","c":"NA","x":1150},{"t":"P","c":"NA","x":1195},{"t":"P","c":"NA","x":1255},{"t":"P","c":"NA","x":1310},{"t":"P","c":"NA","x":1345},{"t":"P","c":"NA","x":1375},{"t":"P","c":"NA","x":1395},{"t":"P","c":"NA","x":1430},{"t":"P","c":"NA","x":1510},
{"t":"L","c":"Left","x":473},{"t":"L","c":"Left","x":480},{"t":"L","c":"Left","x":550},{"t":"L","c":"Left","x":558},{"t":"L","c":"Left","x":590},{"t":"L","c":"Left","x":615},{"t":"L","c":"Left","x":690},{"t":"L","c":"Left","x":697},{"t":"L","c":"Left","x":762},{"t":"L","c":"Left","x":893},{"t":"L","c":"Left","x":967},{"t":"L","c":"Left","x":1020},{"t":"L","c":"Left","x":1083},{"t":"L","c":"Left","x":1170},{"t":"L","c":"Left","x":1178},{"t":"L","c":"Left","x":1195},{"t":"L","c":"Left","x":1297},{"t":"L","c":"Left","x":1320},{"t":"L","c":"Left","x":1330},{"t":"L","c":"Left","x":1337},{"t":"L","c":"Left","x":1445},{"t":"L","c":"Right","x":468},{"t":"L","c":"Right","x":545},{"t":"L","c":"Right","x":583},{"t":"L","c":"Right","x":600},{"t":"L","c":"Right","x":608},{"t":"L","c":"Right","x":660},{"t":"L","c":"Right","x":818},{"t":"L","c":"Right","x":830},{"t":"L","c":"Right","x":865},{"t":"L","c":"Right","x":935},{"t":"L","c":"Right","x":1095},{"t":"L","c":"Right","x":1115},{"t":"L","c":"Right","x":1230},{"t":"L","c":"Right","x":1345},{"t":"L","c":"NA","x":652},{"t":"L","c":"NA","x":840},{"t":"L","c":"NA","x":1385},{"t":"L","c":"NA","x":1470}],
"lg":[{"g":1,"p":0,"q":1,"n":1.33,"a":0,"b":0.96,"m":0.34,"c":"Low","l":"Low"},{"g":1,"p":0,"q":1,"n":1.33,"a":0.96,"b":1.94,"m":1.44,"c":"High","l":"High"},{"g":1,"p":0,"q":1,"n":1.33,"a":2.45,"b":3.39,"m":2.93,"c":"Alive","l":"Alive"},{"g":1,"p":0,"q":1,"n":1.33,"a":3.39,"b":4.31,"m":4,"c":"Death","l":"Death"},{"g":1,"p":0,"q":1,"n":1.33,"a":4.85,"b":5.81,"m":5.23,"c":"NoRec","l":"No recurrence"},{"g":1,"p":0,"q":1,"n":1.33,"a":5.81,"b":6.77,"m":6.39,"c":"Rec","l":"Recurrence"},{"g":1,"p":0,"q":1,"n":1.33,"a":7.39,"b":8.43,"m":7.81,"c":"T1","l":"T1"},{"g":1,"p":0,"q":1,"n":1.33,"a":8.43,"b":9.5,"m":8.84,"c":"T2","l":"T2"},{"g":1,"p":0,"q":1,"n":1.33,"a":9.5,"b":10.56,"m":9.91,"c":"T3","l":"T3"},{"g":1,"p":0,"q":1,"n":1.33,"a":10.56,"b":11.63,"m":10.98,"c":"T4","l":"T4"},{"g":1,"p":0,"q":1,"n":1.33,"a":12.43,"b":13.39,"m":12.9,"c":"N0","l":"N0"},{"g":1,"p":0,"q":1,"n":1.33,"a":13.39,"b":14.36,"m":13.96,"c":"N1","l":"N1"},{"g":1,"p":0,"q":1,"n":1.33,"a":15,"b":15.96,"m":15.47,"c":"M0","l":"M0"},{"g":1,"p":0,"q":1,"n":1.33,"a":15.96,"b":16.89,"m":16.49,"c":"M1","l":"M1"},{"g":1,"p":0,"q":1,"n":1.33,"a":17.72,"b":18.77,"m":18.12,"c":"M0","l":"40"},{"g":1,"p":0,"q":1,"n":1.33,"a":18.77,"b":19.84,"m":19.16,"c":"a50","l":"50"},{"g":1,"p":0,"q":1,"n":1.33,"a":19.84,"b":20.89,"m":20.22,"c":"a60","l":"60"},{"g":1,"p":0,"q":1,"n":1.33,"a":20.89,"b":21.96,"m":21.29,"c":"a70","l":"70"},
{"g":2,"k":1,"p":0,"q":1,"n":1.32,"a":-0.05,"b":0.93,"m":0.48,"c":"TF","l":"Tumor free"},{"g":2,"k":1,"p":0,"q":1,"n":1.32,"a":0.93,"b":1.88,"m":1.56,"c":"WT","l":"With tumor"},{"g":2,"k":1,"p":0,"q":1,"n":1.32,"a":2.52,"b":3.56,"m":2.74,"c":"White","l":"White"},{"g":2,"k":1,"p":0,"q":1,"n":1.32,"a":3.56,"b":4.55,"m":4,"c":"Asian","l":"Asian"},{"g":2,"k":1,"p":0,"q":1,"n":1.32,"a":4.55,"b":5.63,"m":5.19,"c":"Black","l":"Black or African American"},{"g":2,"k":0,"p":0,"q":1,"n":1.32,"a":6.06,"b":7.03,"m":6.49,"c":"Resp","l":"Response"},{"g":2,"k":0,"p":0,"q":1,"n":1.32,"a":7.03,"b":7.99,"m":7.51,"c":"NR","l":"No response"},{"g":2,"k":1,"p":0,"q":1,"n":1.32,"a":8.52,"b":9.48,"m":8.96,"c":"Yes","l":"Yes"},{"g":2,"k":0,"p":0,"q":1,"n":1.32,"a":9.48,"b":10.44,"m":10.03,"c":"No","l":"No"},{"g":2,"k":0,"p":0,"q":1,"n":1.32,"a":10.86,"b":11.92,"m":11.33,"c":"Left","l":"Left"},{"g":2,"k":0,"p":0,"q":1,"n":1.32,"a":11.92,"b":12.99,"m":12.34,"c":"Right","l":"Right"},{"g":2,"k":0,"p":0,"q":1,"n":1.32,"a":12.99,"b":14.08,"m":13.48,"c":"Bil","l":"Bilateral"}],
"d1":[{"i":0.5,"r":0.5,"a":0,"b":1.5,"c":"Death2"},{"i":0.5,"r":0.5,"a":1.5,"b":100,"c":"Alive2"},{"i":0.5,"r":1.5,"a":0,"b":2.5,"c":"Death2"},{"i":0.5,"r":1.5,"a":2.5,"b":100,"c":"Alive2"},{"i":1.5,"r":0.5,"a":0,"b":10,"c":"Rec"},{"i":1.5,"r":0.5,"a":10,"b":100,"c":"NoRec"},{"i":1.5,"r":1.5,"a":0,"b":28,"c":"Rec"},{"i":1.5,"r":1.5,"a":28,"b":100,"c":"NoRec"},{"i":2.5,"r":0.5,"a":0,"b":40,"c":"T1"},{"i":2.5,"r":0.5,"a":40,"b":86,"c":"T2"},{"i":2.5,"r":0.5,"a":86,"b":100,"c":"T3"},{"i":2.5,"r":1.5,"a":0,"b":36,"c":"T1"},{"i":2.5,"r":1.5,"a":36,"b":73.5,"c":"T2"},{"i":2.5,"r":1.5,"a":73.5,"b":98.5,"c":"T3"},{"i":2.5,"r":1.5,"a":98.5,"b":100,"c":"T4"},{"i":3.5,"r":0.5,"a":0,"b":92,"c":"N0"},{"i":3.5,"r":0.5,"a":92,"b":100,"c":"N1"},{"i":3.5,"r":1.5,"a":0,"b":74,"c":"N0"},{"i":3.5,"r":1.5,"a":74,"b":100,"c":"N1"},{"i":4.5,"r":0.5,"a":0,"b":0.4,"c":"M1"},{"i":4.5,"r":0.5,"a":0.4,"b":100,"c":"M0"},{"i":4.5,"r":1.5,"a":0,"b":0.5,"c":"M1"},{"i":4.5,"r":1.5,"a":0.5,"b":100,"c":"M0"},{"i":5.5,"r":0.5,"a":0,"b":9,"c":"M0"},{"i":5.5,"r":0.5,"a":9,"b":50,"c":"a50"},{"i":5.5,"r":0.5,"a":50,"b":93,"c":"a60"},{"i":5.5,"r":0.5,"a":93,"b":100,"c":"a70"},{"i":5.5,"r":1.5,"a":0,"b":3.5,"c":"M0"},{"i":5.5,"r":1.5,"a":3.5,"b":40,"c":"a50"},{"i":5.5,"r":1.5,"a":40,"b":94,"c":"a60"},{"i":5.5,"r":1.5,"a":94,"b":100,"c":"a70"}],
"d2":[{"i":0.5,"r":0.5,"a":0,"b":89,"c":"TF"},{"i":0.5,"r":0.5,"a":89,"b":100,"c":"WT"},{"i":0.5,"r":1.5,"a":0,"b":72,"c":"TF"},{"i":0.5,"r":1.5,"a":72,"b":100,"c":"WT"},{"i":1.5,"r":0.5,"a":0,"b":85,"c":"White"},{"i":1.5,"r":0.5,"a":85,"b":87,"c":"Asian"},{"i":1.5,"r":0.5,"a":87,"b":100,"c":"Black"},{"i":1.5,"r":1.5,"a":0,"b":83.5,"c":"White"},{"i":1.5,"r":1.5,"a":83.5,"b":89,"c":"Asian"},{"i":1.5,"r":1.5,"a":89,"b":100,"c":"Black"},{"i":2.5,"r":0.5,"a":0,"b":97,"c":"NRd"},{"i":2.5,"r":0.5,"a":97,"b":100,"c":"Rd"},{"i":2.5,"r":1.5,"a":0,"b":92,"c":"NRd"},{"i":2.5,"r":1.5,"a":92,"b":100,"c":"Rd"},{"i":3.5,"r":0.5,"a":0,"b":3,"c":"Yes"},{"i":3.5,"r":0.5,"a":3,"b":100,"c":"No"},{"i":3.5,"r":1.5,"a":0,"b":17,"c":"Yes"},{"i":3.5,"r":1.5,"a":17,"b":100,"c":"No"},{"i":4.5,"r":0.5,"a":0,"b":3.5,"c":"Left"},{"i":4.5,"r":0.5,"a":3.5,"b":12,"c":"Right"},{"i":4.5,"r":0.5,"a":12,"b":100,"c":"Bil"},{"i":4.5,"r":1.5,"a":0,"b":3,"c":"Left"},{"i":4.5,"r":1.5,"a":3,"b":8.5,"c":"Right"},{"i":4.5,"r":1.5,"a":8.5,"b":100,"c":"Bil"}],
"rleg":[{"s":"risk","x":0.403,"x2":0.485,"y":0.278},{"s":"T","x":0.403,"x2":0.485,"y":0.224},{"s":"N","x":0.403,"x2":0.485,"y":0.172},{"s":"M","x":0.403,"x2":0.485,"y":0.119},{"s":"PSA","x":0.403,"x2":0.485,"y":0.066},{"s":"Gleason","x":0.403,"x2":0.485,"y":0.011}]
},
"layer":[
{"data":{"values":[{"l":"A","x":0.001,"y":0.0073},{"l":"B","x":0.29,"y":0.0073},{"l":"C","x":0.609,"y":0.0073},{"l":"D","x":0.0005,"y":0.2355},{"l":"E","x":0.0005,"y":0.522},{"l":"F","x":0.0005,"y":0.826}]},"mark":{"type":"text","fontSize":25,"fontWeight":"bold","align":"left","baseline":"middle","color":"black"},"encoding":{"x":{"field":"x","type":"quantitative","scale":{"domain":[0,1],"range":[0,1548]},"axis":null},"y":{"field":"y","type":"quantitative","scale":{"domain":[0,1],"range":[0,2054]},"axis":null},"text":{"field":"l"}}},
{"encoding":{"x":{"field":"x","type":"quantitative","scale":{"domain":[0,15],"range":[94,433]},"axis":{"orient":"bottom","offset":-1644.7,"values":[0,5,10,15],"title":"Time (years)","labelFontSize":23,"labelFontWeight":"bold","tickSize":9,"tickWidth":3,"labelPadding":6,"titleFontSize":24,"titleFontWeight":"bold","titlePadding":11}},"y":{"field":"y","type":"quantitative","scale":{"domain":[0,110],"range":[409.3,72]},"axis":{"orient":"left","offset":-94,"values":[0,50,100],"title":"Percent survival","labelFontSize":23,"labelFontWeight":"bold","tickSize":9,"tickWidth":3,"labelPadding":3,"titleFontSize":24,"titleFontWeight":"bold","titlePadding":7}}},
"layer":[
{"data":{"values":[{"x":0,"x2":15,"y":0,"y2":110}]},"mark":{"type":"rect","fillOpacity":0,"stroke":"black","strokeWidth":3.5},"encoding":{"x2":{"field":"x2"},"y2":{"field":"y2"}}},
{"data":{"values":[{"s":"L","x":0,"y":100},{"s":"L","x":0.55,"y":99},{"s":"L","x":0.9,"y":97.6},{"s":"L","x":1.3,"y":96},{"s":"L","x":1.9,"y":94.5},{"s":"L","x":2.2,"y":93},{"s":"L","x":2.7,"y":92},{"s":"L","x":2.9,"y":88},{"s":"L","x":3.2,"y":86},{"s":"L","x":3.7,"y":85},{"s":"L","x":3.9,"y":81},{"s":"L","x":4.2,"y":78.5},{"s":"L","x":4.5,"y":76.9},{"s":"L","x":6.77,"y":67.3},{"s":"L","x":11.8,"y":67.3},{"s":"H","x":0,"y":100},{"s":"H","x":0.25,"y":96.8},{"s":"H","x":0.55,"y":91.8},{"s":"H","x":0.91,"y":89.1},{"s":"H","x":1.14,"y":84.7},{"s":"H","x":1.5,"y":81.5},{"s":"H","x":1.8,"y":77.7},{"s":"H","x":2.17,"y":75},{"s":"H","x":2.54,"y":73.3},{"s":"H","x":2.9,"y":70},{"s":"H","x":3.35,"y":66.8},{"s":"H","x":3.93,"y":64.1},{"s":"H","x":4,"y":61.3},{"s":"H","x":5.2,"y":59.2},{"s":"H","x":5.4,"y":56.4},{"s":"H","x":5.6,"y":53.7},{"s":"H","x":6,"y":51.5},{"s":"H","x":6.15,"y":51},{"s":"H","x":6.86,"y":47.9},{"s":"H","x":13.75,"y":47.9}]},"mark":{"type":"line","interpolate":"step-after","strokeWidth":3.5},"encoding":{"color":{"field":"s","type":"nominal","scale":{"domain":["L","H"],"range":["#F1E424","#5F6F44"]},"legend":null}}},
{"data":{"values":[{"s":"L","x":0.1,"y":100},{"s":"L","x":0.2,"y":100},{"s":"L","x":0.3,"y":100},{"s":"L","x":0.4,"y":100},{"s":"L","x":0.75,"y":99},{"s":"L","x":1,"y":97.6},{"s":"L","x":1.2,"y":97.6},{"s":"L","x":1.5,"y":96},{"s":"L","x":1.7,"y":96},{"s":"L","x":2,"y":94.5},{"s":"L","x":2.3,"y":93},{"s":"L","x":2.5,"y":93},{"s":"L","x":2.7,"y":92},{"s":"L","x":3,"y":88},{"s":"L","x":3.4,"y":86},{"s":"L","x":3.6,"y":86},{"s":"L","x":4,"y":81},{"s":"L","x":4.3,"y":78.5},{"s":"L","x":4.6,"y":76.9},{"s":"L","x":4.8,"y":76.9},{"s":"L","x":5,"y":76.9},{"s":"L","x":5.2,"y":76.9},{"s":"L","x":5.4,"y":76.9},{"s":"L","x":5.6,"y":76.9},{"s":"L","x":6.4,"y":76.9},{"s":"L","x":6.7,"y":76.9},{"s":"L","x":6.9,"y":67.3},{"s":"L","x":7.25,"y":67.3},{"s":"L","x":7.8,"y":67.3},{"s":"L","x":8.5,"y":67.3},{"s":"L","x":9.5,"y":67.3},{"s":"L","x":11.8,"y":67.3},{"s":"H","x":0.1,"y":100},{"s":"H","x":0.3,"y":96.8},{"s":"H","x":0.45,"y":96.8},{"s":"H","x":0.7,"y":91.8},{"s":"H","x":1,"y":89.1},{"s":"H","x":1.3,"y":84.7},{"s":"H","x":1.6,"y":81.5},{"s":"H","x":1.9,"y":77.7},{"s":"H","x":2.3,"y":75},{"s":"H","x":2.6,"y":73.3},{"s":"H","x":3,"y":70},{"s":"H","x":3.3,"y":70},{"s":"H","x":3.7,"y":66.8},{"s":"H","x":4.1,"y":61.3},{"s":"H","x":4.4,"y":61.3},{"s":"H","x":4.7,"y":61.3},{"s":"H","x":4.9,"y":61.3},{"s":"H","x":5.1,"y":61.3},{"s":"H","x":5.3,"y":59.2},{"s":"H","x":5.5,"y":56.4},{"s":"H","x":5.8,"y":53.7},{"s":"H","x":6.1,"y":51.5},{"s":"H","x":6.5,"y":51},{"s":"H","x":7,"y":47.9},{"s":"H","x":7.4,"y":47.9},{"s":"H","x":7.9,"y":47.9},{"s":"H","x":9.1,"y":47.9},{"s":"H","x":9.5,"y":47.9},{"s":"H","x":9.6,"y":47.9},{"s":"H","x":10,"y":47.9},{"s":"H","x":10.2,"y":47.9},{"s":"H","x":11.7,"y":47.9},{"s":"H","x":13.75,"y":47.9}]},"mark":{"type":"tick","orient":"vertical","size":9,"thickness":2.5},"encoding":{"color":{"field":"s","type":"nominal","legend":null}}},
{"data":{"values":[{"s":"L","x":0.49,"x2":1.81,"y":38.9},{"s":"H","x":0.49,"x2":1.81,"y":25.9}]},"mark":{"type":"rule","strokeWidth":3.5},"encoding":{"x2":{"field":"x2"},"color":{"field":"s","type":"nominal","legend":null}}},
{"data":{"values":[{"x":1.1,"y":38.9,"s":"L"},{"x":1.1,"y":25.9,"s":"H"}]},"mark":{"type":"tick","orient":"vertical","size":8,"thickness":2},"encoding":{"color":{"field":"s","type":"nominal","legend":null}}},
{"data":{"values":[{"x":2.7,"y":38.9,"l":"Low risk"},{"x":2.7,"y":25.9,"l":"High risk"},{"x":0.38,"y":9,"l":"P<0.0001"}]},"mark":{"type":"text","fontSize":24,"fontWeight":"bold","align":"left","baseline":"middle","color":"black"},"encoding":{"text":{"field":"l"}}},
{"data":{"values":[{"x":7.77,"y":119.6,"l":"TCGA-RFS\u00a0\u00a0N=454"}]},"mark":{"type":"text","fontSize":28,"fontWeight":"bold","align":"center","baseline":"middle","color":"black"},"encoding":{"text":{"field":"l"}}}
]},
{"encoding":{"x":{"field":"x","type":"quantitative","scale":{"domain":[216,1452],"range":[512,924]},"axis":null},"y":{"field":"y","type":"quantitative","scale":{"domain":[0,15],"range":[241.7,50.7]},"axis":{"orient":"left","offset":-512,"values":[0,5,10,15],"title":"Following up(years)","labelFontSize":13.5,"labelFontWeight":"bold","tickSize":5,"tickWidth":2,"labelPadding":2,"titleFontSize":19.5,"titleFontWeight":"bold","titlePadding":5}}},
"layer":[
{"data":{"name":"scN"},"mark":{"type":"circle","size":26,"opacity":1,"color":"#F1E424"}},
{"data":{"name":"scR"},"mark":{"type":"point","shape":"triangle-up","size":50,"filled":true,"opacity":1,"color":"#5F6F44"}},
{"data":{"values":[{"x":832,"y":0,"y2":15}]},"mark":{"type":"rule","strokeDash":[7,4],"strokeWidth":2.5,"color":"black"},"encoding":{"y2":{"field":"y2"}}},
{"data":{"values":[{"x":216,"x2":1452,"y":0,"y2":15.13}]},"mark":{"type":"rect","fillOpacity":0,"stroke":"black","strokeWidth":3},"encoding":{"x2":{"field":"x2"},"y2":{"field":"y2"}}},
{"data":{"values":[{"x":268,"y":14}]},"mark":{"type":"circle","size":40,"opacity":1,"color":"#F1E424"}},
{"data":{"values":[{"x":268,"y":12.6}]},"mark":{"type":"point","shape":"triangle-up","size":80,"filled":true,"opacity":1,"color":"#5F6F44"}},
{"data":{"values":[{"x":308,"y":13.98,"l":"No recurrence"},{"x":308,"y":12.6,"l":"Recurrence"}]},"mark":{"type":"text","fontSize":15,"fontWeight":"bold","align":"left","baseline":"middle","color":"black"},"encoding":{"text":{"field":"l"}}}
]},
{"encoding":{"x":{"field":"x","type":"quantitative","scale":{"domain":[216,1452],"range":[512,924]},"axis":null},"y":{"field":"y","type":"quantitative","scale":{"domain":[0,15],"range":[441,257]},"axis":{"orient":"left","offset":-512,"values":[0,5,10,15],"title":"Risk score","labelFontSize":13.5,"labelFontWeight":"bold","tickSize":5,"tickWidth":2,"labelPadding":2,"titleFontSize":19.5,"titleFontWeight":"bold","titlePadding":5}}},
"layer":[
{"data":{"values":[{"x":216,"x2":300,"y":0.35,"c":"N"},{"x":300,"x2":400,"y":0.45,"c":"N"},{"x":400,"x2":500,"y":0.6,"c":"N"},{"x":500,"x2":600,"y":0.7,"c":"N"},{"x":600,"x2":700,"y":0.8,"c":"N"},{"x":700,"x2":832,"y":0.95,"c":"N"},{"x":832,"x2":950,"y":1.1,"c":"N"},{"x":950,"x2":1080,"y":1.4,"c":"N"},{"x":1080,"x2":1135,"y":1.7,"c":"N"},{"x":1135,"x2":1300,"y":2.1,"c":"N"},{"x":1300,"x2":1345,"y":2.8,"c":"N"},{"x":1345,"x2":1347,"y":3.2,"c":"N"},{"x":1420,"x2":1427,"y":5.5,"c":"N"},{"x":1427,"x2":1437,"y":8.4,"c":"N"},{"x":305,"x2":322,"y":0.4,"c":"R"},{"x":358,"x2":384,"y":0.45,"c":"R"},{"x":409,"x2":427,"y":0.5,"c":"R"},{"x":451,"x2":468,"y":0.55,"c":"R"},{"x":537,"x2":555,"y":0.7,"c":"R"},{"x":558,"x2":576,"y":0.72,"c":"R"},{"x":598,"x2":617,"y":0.75,"c":"R"},{"x":636,"x2":672,"y":0.8,"c":"R"},{"x":698,"x2":716,"y":0.85,"c":"R"},{"x":726,"x2":868,"y":0.95,"c":"R"},{"x":903,"x2":935,"y":1.2,"c":"R"},{"x":940,"x2":958,"y":1.25,"c":"R"},{"x":973,"x2":1022,"y":1.35,"c":"R"},{"x":1026,"x2":1076,"y":1.5,"c":"R"},{"x":1135,"x2":1152,"y":1.65,"c":"R"},{"x":1155,"x2":1210,"y":1.85,"c":"R"},{"x":1210,"x2":1260,"y":2,"c":"R"},{"x":1260,"x2":1310,"y":2.4,"c":"R"},{"x":1316,"x2":1338,"y":2.7,"c":"R"},{"x":1347,"x2":1370,"y":3.1,"c":"R"},{"x":1370,"x2":1395,"y":4,"c":"R"},{"x":1395,"x2":1420,"y":4.9,"c":"R"},{"x":1420,"x2":1427,"y":5.2,"c":"R"},{"x":1427,"x2":1432,"y":7.3,"c":"R"},{"x":1432,"x2":1437,"y":8,"c":"R"},{"x":1437,"x2":1442,"y":13,"c":"R"},{"x":1442,"x2":1452,"y":15,"c":"R"}]},"mark":{"type":"bar"},"encoding":{"x2":{"field":"x2"},"y2":{"datum":0},"color":{"field":"c","type":"nominal","scale":{"domain":["N","R"],"range":["#F1E424","#5F6F44"]},"legend":null}}},
{"data":{"values":[{"x":833,"y":0,"y2":15.2}]},"mark":{"type":"rule","strokeDash":[7,4],"strokeWidth":2.5,"color":"black"},"encoding":{"y2":{"field":"y2"}}},
{"data":{"values":[{"x":216,"x2":1452,"y":-0.05,"y2":15.28}]},"mark":{"type":"rect","fillOpacity":0,"stroke":"black","strokeWidth":3},"encoding":{"x2":{"field":"x2"},"y2":{"field":"y2"}}},
{"data":{"values":[{"x":228,"x2":288,"y":14.7,"y2":13.65,"c":"N"},{"x":228,"x2":288,"y":13,"y2":11.9,"c":"R"}]},"mark":{"type":"rect","cornerRadius":4},"encoding":{"x2":{"field":"x2"},"y2":{"field":"y2"},"color":{"field":"c","type":"nominal","legend":null}}},
{"data":{"values":[{"x":305,"y":14.1,"l":"No recurrence"},{"x":305,"y":12.4,"l":"Recurrence"}]},"mark":{"type":"text","fontSize":15,"fontWeight":"bold","align":"left","baseline":"middle","color":"black"},"encoding":{"text":{"field":"l"}}}
]},
{"encoding":{"x":{"field":"x","type":"quantitative","scale":{"domain":[-0.068,0.339],"range":[1096.6,1446.6]},"axis":null},"y":{"field":"y","type":"quantitative","scale":{"domain":[0,1],"range":[442.3,37.7]},"axis":null}},
"layer":[
{"data":{"values":[{"x":-0.05,"y":0,"y2":1},{"x":0.05,"y":0,"y2":1},{"x":0.1,"y":0,"y2":1},{"x":0.15,"y":0,"y2":1},{"x":0.2,"y":0,"y2":1},{"x":0.25,"y":0,"y2":1},{"x":0.3,"y":0,"y2":1}]},"mark":{"type":"rule","color":"#ececec","strokeWidth":1.5},"encoding":{"y2":{"field":"y2"}}},
{"data":{"values":[{"x":0.348,"y":0.977,"l":"-log10(pvalue)"}]},"mark":{"type":"text","fontSize":14.5,"align":"left","baseline":"middle","color":"black"},"encoding":{"text":{"field":"l"}}}
]},
{"data":{"values":[{"v":"***RFS Status","r":0.323,"z":0,"p":11.4},{"v":"***Postoperative RX","r":0.291,"z":0,"p":9},{"v":"***N","r":0.286,"z":0,"p":8},{"v":"***Cancer Status","r":0.252,"z":0,"p":5.9},{"v":"***T","r":0.165,"z":0,"p":3.5},{"v":"**Age","r":0.15,"z":0,"p":2.9},{"v":"**Treatment Response","r":0.137,"z":0,"p":2.4},{"v":"Survival Status","r":0.08,"z":0,"p":1.1},{"v":"Laterality","r":0.079,"z":0,"p":1.1},{"v":"M","r":0.046,"z":0,"p":0.7},{"v":"Race","r":-0.048,"z":0,"p":0.6}]},
"encoding":{"x":{"field":"r","type":"quantitative","scale":{"domain":[-0.068,0.339],"range":[1096.6,1446.6]},"axis":{"orient":"bottom","offset":-1612,"values":[0,0.1,0.2,0.3],"format":".1f","title":"Correlation coefficient (r)","titleX":1299,"labelFontSize":15.5,"tickSize":3,"tickColor":"#333","labelPadding":2,"titleFontSize":20,"titleFontWeight":"bold","titlePadding":4}},"y":{"field":"v","type":"nominal","sort":null,"scale":{"type":"point","padding":0,"domain":["***RFS Status","***Postoperative RX","***N","***Cancer Status","***T","**Age","**Treatment Response","Survival Status","Laterality","M","Race"],"range":[59,419.7]},"axis":{"orient":"left","offset":-1096.6,"title":null,"labelFontSize":15.5,"labelFontWeight":"bold","tickSize":3,"tickColor":"#333","labelPadding":1,"labelOverlap":false}}},
"layer":[
{"data":{"values":[{"v":"***RFS Status","r":-0.068,"z":0.339},{"v":"***Postoperative RX","r":-0.068,"z":0.339},{"v":"***N","r":-0.068,"z":0.339},{"v":"***Cancer Status","r":-0.068,"z":0.339},{"v":"***T","r":-0.068,"z":0.339},{"v":"**Age","r":-0.068,"z":0.339},{"v":"**Treatment Response","r":-0.068,"z":0.339},{"v":"Survival Status","r":-0.068,"z":0.339},{"v":"Laterality","r":-0.068,"z":0.339},{"v":"M","r":-0.068,"z":0.339},{"v":"Race","r":-0.068,"z":0.339}]},"mark":{"type":"rule","color":"#ececec","strokeWidth":1.5},"encoding":{"x2":{"field":"z"}}},
{"mark":{"type":"rule","color":"black","strokeWidth":5},"encoding":{"x2":{"field":"z"}}},
{"mark":{"type":"circle","opacity":1},"encoding":{"color":{"field":"p","type":"quantitative","scale":{"domain":[0.45,3,5,6,7,8,9,11.45],"range":["#6A4C9C","#53439F","#2B3F93","#1F5FAE","#23A6B8","#36BCA5","#4DB87E","#8CC63F"]},"legend":{"orient":"none","legendX":1462.6,"legendY":59,"title":null,"values":[3,6,9],"gradientLength":127.7,"gradientThickness":25,"labelFontSize":14,"tickCount":3}},"size":{"field":"r","type":"quantitative","scale":{"domain":[-0.05,0,0.1,0.2,0.33],"range":[36,144,324,440,560]},"legend":{"orient":"none","legendX":1462,"legendY":220,"title":"Correlation","titleFontSize":14,"titleFontWeight":"normal","titlePadding":13,"rowPadding":0,"values":[0,0.1,0.2,0.3],"format":".1f","labelFontSize":14,"symbolFillColor":"black","symbolStrokeColor":"black","symbolOpacity":1,"symbolType":"circle"}}}}
]},
{"encoding":{"x":{"field":"x","type":"quantitative","scale":{"domain":[-0.068,0.339],"range":[1096.6,1446.6]},"axis":null},"y":{"field":"y","type":"quantitative","scale":{"domain":[0,1],"range":[442.3,37.7]},"axis":null}},
"layer":[
{"data":{"values":[{"x":0,"y":0,"y2":1}]},"mark":{"type":"rule","color":"black","strokeWidth":2},"encoding":{"y2":{"field":"y2"}}},
{"data":{"values":[{"x":-0.068,"x2":0.339,"y":0,"y2":1}]},"mark":{"type":"rect","fillOpacity":0,"stroke":"#333","strokeWidth":2.5},"encoding":{"x2":{"field":"x2"},"y2":{"field":"y2"}}}
]},
{"resolve":{"scale":{"x":"independent","y":"independent","theta":"independent"},"axis":{"x":"independent","y":"independent"}},
"encoding":{"color":{"field":"c","type":"nominal","legend":null,"scale":{"domain":["Low","High","Alive","Death","NoRec","Rec","T1","T2","T3","T4","N0","N1","M0","M1","a50","a60","a70","TF","WT","White","Asian","Black","Resp","NR","Yes","No","Left","Right","Bil","NA","Alive2","Death2","NRd","Rd"],"range":["#E9E5C8","#B9B92F","#D3D4D3","#333333","#D3D4D3","#808080","#FDDCC0","#F7BC85","#F59C48","#EF6623","#B5DFD1","#127E42","#C4D8F0","#1C2B5A","#B9BADE","#8187C0","#1C2B5A","#B5DFD1","#147A96","#ECF2BF","#EEE838","#7F8030","#E2CAE2","#9555A2","#F0C8E0","#C25FA5","#8C7A32","#AEA76F","#D2D296","#FFFFFF","#AFAFAF","#636363","#843290","#AF70B0"]}}},
"layer":[
{"encoding":{"x":{"field":"x","type":"quantitative","scale":{"domain":[448,1532],"range":[297,1016]},"axis":null},"y":{"field":"t","type":"nominal","sort":null,"scale":{"type":"band","domain":["R","S","F","T","M","N","A","C","K","X","P","L"],"range":[508.3,1047.6],"paddingInner":0.167,"paddingOuter":0},"axis":{"orient":"left","offset":-297,"title":null,"ticks":false,"labelPadding":8,"labelOffset":2,"labelLimit":500,"labelFontSize":26.5,"labelFontWeight":"bold","labelExpr":"{'R':'Risk score','S':'Survival Status','F':'RFS Status','T':'T','M':'M','N':'N','A':'Age','C':'Cancer Status','K':'Race','X':'Treatment Response','P':'Postoperative RX','L':'Laterality'}[datum.label]"}}},
"layer":[
{"data":{"name":"hb"},"mark":"rect","encoding":{"x2":{"field":"x2"}}},
{"data":{"name":"hs"},"mark":{"type":"tick","thickness":1.5,"size":38,"opacity":1}}
]},
{"data":{"name":"lg"},"transform":[{"filter":"datum.g==1"}],"encoding":{"x":{"field":"p","type":"quantitative","scale":{"domain":[0,1],"range":[1048.7,1075.3]},"axis":null},"y":{"field":"a","type":"quantitative","scale":{"domain":[0,22],"range":[506.4,1046.4]},"axis":null}},"layer":[
{"mark":"rect","encoding":{"x2":{"field":"q"},"y2":{"field":"b"}}},
{"mark":{"type":"text","fontSize":17.5,"align":"left","baseline":"middle"},"encoding":{"x":{"field":"n","type":"quantitative","axis":null},"y":{"field":"m","type":"quantitative","axis":null},"text":{"field":"l"},"color":{"value":"#222"}}}]},
{"data":{"name":"lg"},"transform":[{"filter":"datum.g==2"}],"encoding":{"x":{"field":"p","type":"quantitative","scale":{"domain":[0,1],"range":[1202,1228.7]},"axis":null},"y":{"field":"a","type":"quantitative","scale":{"domain":[0,22],"range":[506.4,1046.4]},"axis":null}},"layer":[
{"mark":"rect","encoding":{"x2":{"field":"q"},"y2":{"field":"b"}}},
{"transform":[{"filter":"datum.k==0"}],"mark":{"type":"text","fontSize":17.5,"align":"left","baseline":"middle"},"encoding":{"x":{"field":"n","type":"quantitative","axis":null},"y":{"field":"m","type":"quantitative","axis":null},"text":{"field":"l"},"color":{"value":"#222"}}},
{"transform":[{"filter":"datum.k==1"}],"mark":{"type":"text","font":"DejaVu Sans","fontSize":19.4,"align":"left","baseline":"middle"},"encoding":{"x":{"field":"n","type":"quantitative","axis":null},"y":{"field":"m","type":"quantitative","axis":null},"text":{"field":"l"},"color":{"value":"#222"}}}]},
{"data":{"name":"lg"},"transform":[{"filter":"datum.g==1&&datum.a>=2"}],"encoding":{"x":{"field":"p","type":"quantitative","scale":{"domain":[0,1],"range":[1048.7,1075.3]},"axis":null},"y":{"field":"a","type":"quantitative","scale":{"domain":[0,22],"range":[1034.4,1574.4]},"axis":null}},"layer":[
{"mark":"rect","encoding":{"x2":{"field":"q"},"y2":{"field":"b"}}},
{"mark":{"type":"text","fontSize":17.5,"align":"left","baseline":"middle"},"encoding":{"x":{"field":"n","type":"quantitative","axis":null},"y":{"field":"m","type":"quantitative","axis":null},"text":{"field":"l"},"color":{"value":"#222"}}}]},
{"data":{"name":"lg"},"transform":[{"filter":"datum.g==2"}],"encoding":{"x":{"field":"p","type":"quantitative","scale":{"domain":[0,1],"range":[1202,1228.7]},"axis":null},"y":{"field":"a","type":"quantitative","scale":{"domain":[0,22],"range":[1094.4,1634.4]},"axis":null}},"layer":[
{"mark":"rect","encoding":{"x2":{"field":"q"},"y2":{"field":"b"}}},
{"transform":[{"filter":"datum.k==0"}],"mark":{"type":"text","fontSize":17.5,"align":"left","baseline":"middle"},"encoding":{"x":{"field":"n","type":"quantitative","axis":null},"y":{"field":"m","type":"quantitative","axis":null},"text":{"field":"l"},"color":{"value":"#222"}}},
{"transform":[{"filter":"datum.k==1"}],"mark":{"type":"text","font":"DejaVu Sans","fontSize":19.4,"align":"left","baseline":"middle"},"encoding":{"x":{"field":"n","type":"quantitative","axis":null},"y":{"field":"m","type":"quantitative","axis":null},"text":{"field":"l"},"color":{"value":"#222"}}}]},
{"encoding":{"x":{"field":"i","type":"quantitative","scale":{"domain":[0,6],"range":[195.3,918.6]},"axis":null},"y":{"field":"r","type":"quantitative","scale":{"domain":[0,2],"range":[1118.8,1358.8]},"axis":null}},"layer":[
{"data":{"values":[{"i":-0.485,"i2":6,"r":-0.208,"r2":2.175}]},"mark":"rect","encoding":{"x2":{"field":"i2"},"y2":{"field":"r2"},"color":{"value":"#050505"}}},
{"data":{"values":[{"i":0,"i2":6,"r":0,"r2":2}]},"mark":"rect","encoding":{"x2":{"field":"i2"},"y2":{"field":"r2"},"color":{"value":"#ffffff"}}},
{"data":{"values":[{"i":1,"r":0,"r2":2},{"i":2,"r":0,"r2":2},{"i":3,"r":0,"r2":2},{"i":4,"r":0,"r2":2},{"i":5,"r":0,"r2":2}]},"mark":{"type":"rule","strokeWidth":1},"encoding":{"y2":{"field":"r2"},"color":{"value":"#e4e4e4"}}},
{"data":{"values":[{"i":0,"i2":6,"r":1}]},"mark":{"type":"rule","strokeWidth":1},"encoding":{"x2":{"field":"i2"},"color":{"value":"#e4e4e4"}}},
{"data":{"name":"d1"},"encoding":{"theta":{"field":"a","type":"quantitative","scale":{"domain":[0,100],"range":[0,6.2832]}},"theta2":{"field":"b"}},"layer":[
{"transform":[{"filter":"datum.r<1"}],"mark":{"type":"arc","radius":45.5,"radius2":22.5}},
{"transform":[{"filter":"datum.r>1"}],"mark":{"type":"arc","radius":47.5,"radius2":23.6}}]},
{"data":{"values":[{"i":0.5,"r":-0.108,"l":"Survival Status"},{"i":1.5,"r":-0.108,"l":"Recurrence Status"},{"i":2.5,"r":-0.108,"l":"T"},{"i":3.5,"r":-0.108,"l":"N"},{"i":4.5,"r":-0.108,"l":"M"},{"i":5.5,"r":-0.108,"l":"Age"}]},"mark":{"type":"text","fontSize":12.3,"fontWeight":"bold","baseline":"middle"},"encoding":{"text":{"field":"l"},"color":{"value":"#ffffff"}}},
{"data":{"values":[{"i":0.5,"r":2.086,"l":"P=0.4756"},{"i":1.5,"r":2.086,"l":"P<0.0001"},{"i":2.5,"r":2.086,"l":"P=0.0167"},{"i":3.5,"r":2.086,"l":"P<0.0001"},{"i":4.5,"r":2.086,"l":"P=0.9865"},{"i":5.5,"r":2.086,"l":"P=0.0068"}]},"mark":{"type":"text","fontSize":14.5,"fontWeight":"bold","baseline":"middle"},"encoding":{"text":{"field":"l"},"color":{"value":"#ffffff"}}},
{"data":{"values":[{"i":-0.464,"r":-0.108,"l":"TCGA"},{"i":-0.464,"r":0.5,"l":"Low"},{"i":-0.464,"r":1.5,"l":"High"}]},"mark":{"type":"text","fontSize":16,"fontWeight":"bold","align":"left","baseline":"middle"},"encoding":{"text":{"field":"l"},"color":{"value":"#ffffff"}}},
{"data":{"values":[{"i":-0.464,"r":2.086,"l":"P value"}]},"mark":{"type":"text","fontSize":14,"fontWeight":"bold","align":"left","baseline":"middle"},"encoding":{"text":{"field":"l"},"color":{"value":"#ffffff"}}}
]},
{"encoding":{"x":{"field":"i","type":"quantitative","scale":{"domain":[0,5],"range":[195.9,797.7]},"axis":null},"y":{"field":"r","type":"quantitative","scale":{"domain":[0,2],"range":[1421.3,1661.7]},"axis":null}},"layer":[
{"data":{"values":[{"i":-0.489,"i2":5,"r":-0.2,"r2":2.18}]},"mark":"rect","encoding":{"x2":{"field":"i2"},"y2":{"field":"r2"},"color":{"value":"#050505"}}},
{"data":{"values":[{"i":0,"i2":5,"r":0,"r2":2}]},"mark":"rect","encoding":{"x2":{"field":"i2"},"y2":{"field":"r2"},"color":{"value":"#ffffff"}}},
{"data":{"values":[{"i":1,"r":0,"r2":2},{"i":2,"r":0,"r2":2},{"i":3,"r":0,"r2":2},{"i":4,"r":0,"r2":2}]},"mark":{"type":"rule","strokeWidth":1},"encoding":{"y2":{"field":"r2"},"color":{"value":"#e4e4e4"}}},
{"data":{"values":[{"i":0,"i2":5,"r":1}]},"mark":{"type":"rule","strokeWidth":1},"encoding":{"x2":{"field":"i2"},"color":{"value":"#e4e4e4"}}},
{"data":{"name":"d2"},"encoding":{"theta":{"field":"a","type":"quantitative","scale":{"domain":[0,100],"range":[0,6.2832]}},"theta2":{"field":"b"}},"layer":[
{"transform":[{"filter":"datum.r<1"}],"mark":{"type":"arc","radius":45.5,"radius2":22.5}},
{"transform":[{"filter":"datum.r>1"}],"mark":{"type":"arc","radius":48,"radius2":24}}]},
{"data":{"values":[{"i":0.5,"r":-0.1,"l":"Cancer Status"},{"i":1.5,"r":-0.1,"l":"Race"},{"i":2.5,"r":-0.1,"l":"Treatment Response"},{"i":3.5,"r":-0.1,"l":"Postoperative RX"},{"i":4.5,"r":-0.1,"l":"Laterality"}]},"mark":{"type":"text","fontSize":11.8,"fontWeight":"bold","baseline":"middle"},"encoding":{"text":{"field":"l"},"color":{"value":"#ffffff"}}},
{"data":{"values":[{"i":0.5,"r":2.09,"l":"P<0.0001"},{"i":1.5,"r":2.09,"l":"P=0.2060"},{"i":2.5,"r":2.09,"l":"P=0.0160"},{"i":3.5,"r":2.09,"l":"P<0.0001"},{"i":4.5,"r":2.09,"l":"P=0.4553"}]},"mark":{"type":"text","fontSize":14.5,"fontWeight":"bold","baseline":"middle"},"encoding":{"text":{"field":"l"},"color":{"value":"#ffffff"}}},
{"data":{"values":[{"i":-0.464,"r":-0.1,"l":"TCGA"},{"i":-0.464,"r":0.5,"l":"Low"},{"i":-0.464,"r":1.5,"l":"High"}]},"mark":{"type":"text","fontSize":16,"fontWeight":"bold","align":"left","baseline":"middle"},"encoding":{"text":{"field":"l"},"color":{"value":"#ffffff"}}},
{"data":{"values":[{"i":-0.464,"r":2.09,"l":"P value"}]},"mark":{"type":"text","fontSize":14,"fontWeight":"bold","align":"left","baseline":"middle"},"encoding":{"text":{"field":"l"},"color":{"value":"#ffffff"}}}
]}
]},
{"encoding":{"x":{"field":"x","type":"quantitative","scale":{"domain":[0,1],"range":[51,1500]},"axis":null},"y":{"field":"y","type":"quantitative","scale":{"domain":[0,1],"range":[2028,1705]},"axis":null}},"layer":[
{"data":{"values":[{"x":0,"x2":0.99,"y":0,"y2":0},{"x":0,"x2":0,"y":0,"y2":0.97}]},"mark":{"type":"rule","strokeWidth":3,"color":"black"},"encoding":{"x2":{"field":"x2"},"y2":{"field":"y2"}}},
{"data":{"values":[{"x":0.99,"y":0}]},"mark":{"type":"point","shape":"triangle-right","filled":true,"size":600,"opacity":1,"color":"black"}},
{"data":{"values":[{"x":0,"y":0.954}]},"mark":{"type":"point","shape":"triangle-up","filled":true,"size":600,"opacity":1,"color":"black"}},
{"data":{"values":[{"x":-0.011,"y":0.52,"l":"True positive rate"}]},"mark":{"type":"text","fontSize":17,"angle":270,"color":"#222","baseline":"middle"},"encoding":{"text":{"field":"l"}}},
{"data":{"values":[{"x":0.5066,"y":-0.04,"l":"False positive rate"}]},"mark":{"type":"text","fontSize":17,"color":"#222","baseline":"middle"},"encoding":{"text":{"field":"l"}}}
]},
{"encoding":{"x":{"field":"x","type":"quantitative","scale":{"domain":[-0.04,1.04],"range":[93,398]},"axis":{"orient":"bottom","offset":-61.3,"values":[0,0.2,0.4,0.6,0.8,1],"format":".1f","title":null,"labelFontSize":14.5,"labelColor":"#333","tickSize":7,"tickWidth":1.5,"labelPadding":6}},"y":{"field":"y","type":"quantitative","scale":{"domain":[-0.04,1.04],"range":[1992.7,1710]},"axis":{"orient":"left","offset":-93,"values":[0,0.2,0.4,0.6,0.8,1],"format":".1f","title":null,"labelFontSize":14.5,"labelColor":"#333","tickSize":7,"tickWidth":1.5,"labelPadding":6,"labelAngle":-90,"labelAlign":"center","labelBaseline":"bottom"}}},"layer":[
{"data":{"values":[{"x":-0.04,"y":-0.04},{"x":1.04,"y":1.04}]},"mark":{"type":"line","color":"black","strokeWidth":1.5}},
{"data":{"values":[{"s":"T","x":0,"y":0},{"s":"T","x":0.24,"y":0.07},{"s":"T","x":0.67,"y":0.55},{"s":"T","x":1,"y":1},{"s":"N","x":0,"y":0},{"s":"N","x":0.25,"y":0.2},{"s":"N","x":1,"y":1},{"s":"M","x":0,"y":0},{"s":"M","x":0.24,"y":0.235},{"s":"M","x":1,"y":1},{"s":"Gleason","x":0,"y":0},{"s":"Gleason","x":0.24,"y":0.24},{"s":"Gleason","x":0.37,"y":0.33},{"s":"Gleason","x":1,"y":1},{"s":"PSA","x":0,"y":0},{"s":"PSA","x":0.04,"y":0},{"s":"PSA","x":0.043,"y":0.075},{"s":"PSA","x":0.09,"y":0.07},{"s":"PSA","x":0.1,"y":0.135},{"s":"PSA","x":0.23,"y":0.13},{"s":"PSA","x":0.42,"y":0.42},{"s":"PSA","x":0.57,"y":0.665},{"s":"PSA","x":0.63,"y":0.67},{"s":"PSA","x":0.665,"y":0.73},{"s":"PSA","x":0.69,"y":0.735},{"s":"PSA","x":0.77,"y":0.87},{"s":"PSA","x":0.81,"y":0.87},{"s":"PSA","x":0.83,"y":0.94},{"s":"PSA","x":0.95,"y":0.935},{"s":"PSA","x":1,"y":1},{"s":"risk","x":0,"y":0},{"s":"risk","x":0.005,"y":0.065},{"s":"risk","x":0.016,"y":0.065},{"s":"risk","x":0.017,"y":0.25},{"s":"risk","x":0.03,"y":0.25},{"s":"risk","x":0.031,"y":0.314},{"s":"risk","x":0.048,"y":0.314},{"s":"risk","x":0.05,"y":0.378},{"s":"risk","x":0.055,"y":0.44},{"s":"risk","x":0.069,"y":0.48},{"s":"risk","x":0.072,"y":0.543},{"s":"risk","x":0.09,"y":0.543},{"s":"risk","x":0.093,"y":0.62},{"s":"risk","x":0.108,"y":0.615},{"s":"risk","x":0.11,"y":0.677},{"s":"risk","x":0.13,"y":0.69},{"s":"risk","x":0.134,"y":0.754},{"s":"risk","x":0.195,"y":0.74},{"s":"risk","x":0.24,"y":0.75},{"s":"risk","x":0.336,"y":0.737},{"s":"risk","x":0.34,"y":0.809},{"s":"risk","x":0.407,"y":0.811},{"s":"risk","x":0.41,"y":0.875},{"s":"risk","x":0.425,"y":0.877},{"s":"risk","x":0.428,"y":0.952},{"s":"risk","x":0.512,"y":0.941},{"s":"risk","x":0.75,"y":0.93},{"s":"risk","x":0.752,"y":0.996},{"s":"risk","x":0.864,"y":1},{"s":"risk","x":1,"y":1}]},"mark":{"type":"line","strokeWidth":2.3},"encoding":{"color":{"field":"s","type":"nominal","legend":null,"scale":{"domain":["risk","T","N","M","PSA","Gleason"],"range":["#ED2024","#E8E337","#6DB53E","#6BC8D4","#1F58A8","#A855A5"]}}}},
{"data":{"name":"rleg"},"mark":{"type":"rule","strokeWidth":2.5},"encoding":{"x2":{"field":"x2"},"color":{"field":"s","type":"nominal","legend":null}}},
{"data":{"values":[{"x":0.518,"y":0.278,"l":"risk score (AUC=0.836)"},{"x":0.518,"y":0.224,"l":"T (AUC=0.397)"},{"x":0.518,"y":0.172,"l":"N (AUC=0.464)"},{"x":0.518,"y":0.119,"l":"M (AUC=0.498)"},{"x":0.518,"y":0.066,"l":"PSA (AUC=0.517)"},{"x":0.518,"y":0.011,"l":"Gleasonscore (AUC=0.491)"}]},"mark":{"type":"text","fontSize":11,"align":"left","baseline":"middle","color":"#222"},"encoding":{"text":{"field":"l"}}},
{"data":{"values":[{"x":0.005,"y":0.983,"l":"1-year"}]},"mark":{"type":"text","fontSize":15,"align":"left","baseline":"middle","color":"#222"},"encoding":{"text":{"field":"l"}}},
{"data":{"values":[{"x":-0.04,"x2":1.04,"y":-0.04,"y2":1.04}]},"mark":{"type":"rect","fillOpacity":0,"stroke":"black","strokeWidth":2.5},"encoding":{"x2":{"field":"x2"},"y2":{"field":"y2"}}}
]},
{"encoding":{"x":{"field":"x","type":"quantitative","scale":{"domain":[-0.04,1.04],"range":[454.2,758.7]},"axis":{"orient":"bottom","offset":-61.3,"values":[0,0.2,0.4,0.6,0.8,1],"format":".1f","title":null,"labelFontSize":14.5,"labelColor":"#333","tickSize":7,"tickWidth":1.5,"labelPadding":6}},"y":{"field":"y","type":"quantitative","scale":{"domain":[-0.04,1.04],"range":[1992.7,1710]},"axis":{"orient":"left","offset":-454.2,"values":[0,0.2,0.4,0.6,0.8,1],"format":".1f","title":null,"labelFontSize":14.5,"labelColor":"#333","tickSize":7,"tickWidth":1.5,"labelPadding":6,"labelAngle":-90,"labelAlign":"center","labelBaseline":"bottom"}}},"layer":[
{"data":{"values":[{"x":-0.04,"y":-0.04},{"x":1.04,"y":1.04}]},"mark":{"type":"line","color":"black","strokeWidth":1.5}},
{"data":{"values":[{"s":"T","x":0,"y":0},{"s":"T","x":0.27,"y":0.06},{"s":"T","x":0.4,"y":0.19},{"s":"T","x":0.7,"y":0.45},{"s":"T","x":0.85,"y":0.72},{"s":"T","x":1,"y":1},{"s":"N","x":0,"y":0},{"s":"N","x":0.22,"y":0.12},{"s":"N","x":0.4,"y":0.32},{"s":"N","x":1,"y":1},{"s":"M","x":0,"y":0},{"s":"M","x":0.2,"y":0.19},{"s":"M","x":1,"y":1},{"s":"PSA","x":0,"y":0},{"s":"PSA","x":0.05,"y":0},{"s":"PSA","x":0.051,"y":0.03},{"s":"PSA","x":0.075,"y":0.03},{"s":"PSA","x":0.08,"y":0.065},{"s":"PSA","x":0.105,"y":0.07},{"s":"PSA","x":0.11,"y":0.125},{"s":"PSA","x":0.135,"y":0.13},{"s":"PSA","x":0.14,"y":0.165},{"s":"PSA","x":0.155,"y":0.2},{"s":"PSA","x":0.19,"y":0.19},{"s":"PSA","x":0.2,"y":0.225},{"s":"PSA","x":0.22,"y":0.25},{"s":"PSA","x":0.38,"y":0.43},{"s":"PSA","x":0.58,"y":0.65},{"s":"PSA","x":0.6,"y":0.69},{"s":"PSA","x":0.61,"y":0.73},{"s":"PSA","x":0.68,"y":0.755},{"s":"PSA","x":0.78,"y":0.815},{"s":"PSA","x":0.82,"y":0.82},{"s":"PSA","x":0.83,"y":0.88},{"s":"PSA","x":0.95,"y":0.91},{"s":"PSA","x":1,"y":1},{"s":"Gleason","x":0,"y":0},{"s":"Gleason","x":0.03,"y":0.05},{"s":"Gleason","x":0.2,"y":0.245},{"s":"Gleason","x":0.4,"y":0.44},{"s":"Gleason","x":0.6,"y":0.63},{"s":"Gleason","x":0.8,"y":0.82},{"s":"Gleason","x":1,"y":1},{"s":"risk","x":0,"y":0},{"s":"risk","x":0.005,"y":0.05},{"s":"risk","x":0.012,"y":0.05},{"s":"risk","x":0.013,"y":0.155},{"s":"risk","x":0.022,"y":0.16},{"s":"risk","x":0.025,"y":0.22},{"s":"risk","x":0.035,"y":0.22},{"s":"risk","x":0.04,"y":0.39},{"s":"risk","x":0.05,"y":0.43},{"s":"risk","x":0.065,"y":0.43},{"s":"risk","x":0.07,"y":0.47},{"s":"risk","x":0.09,"y":0.48},{"s":"risk","x":0.1,"y":0.5},{"s":"risk","x":0.115,"y":0.52},{"s":"risk","x":0.145,"y":0.52},{"s":"risk","x":0.15,"y":0.55},{"s":"risk","x":0.18,"y":0.545},{"s":"risk","x":0.2,"y":0.55},{"s":"risk","x":0.21,"y":0.585},{"s":"risk","x":0.32,"y":0.58},{"s":"risk","x":0.33,"y":0.61},{"s":"risk","x":0.38,"y":0.62},{"s":"risk","x":0.39,"y":0.65},{"s":"risk","x":0.4,"y":0.685},{"s":"risk","x":0.41,"y":0.685},{"s":"risk","x":0.42,"y":0.72},{"s":"risk","x":0.43,"y":0.745},{"s":"risk","x":0.47,"y":0.74},{"s":"risk","x":0.48,"y":0.825},{"s":"risk","x":0.55,"y":0.835},{"s":"risk","x":0.63,"y":0.83},{"s":"risk","x":0.64,"y":0.87},{"s":"risk","x":0.67,"y":0.87},{"s":"risk","x":0.675,"y":0.9},{"s":"risk","x":0.73,"y":0.885},{"s":"risk","x":0.74,"y":0.915},{"s":"risk","x":0.88,"y":0.92},{"s":"risk","x":0.885,"y":0.955},{"s":"risk","x":0.9,"y":0.99},{"s":"risk","x":0.96,"y":0.99},{"s":"risk","x":1,"y":1}]},"mark":{"type":"line","strokeWidth":2.3},"encoding":{"color":{"field":"s","type":"nominal","legend":null,"scale":{"domain":["risk","T","N","M","PSA","Gleason"],"range":["#ED2024","#E8E337","#6DB53E","#6BC8D4","#1F58A8","#A855A5"]}}}},
{"data":{"name":"rleg"},"mark":{"type":"rule","strokeWidth":2.5},"encoding":{"x2":{"field":"x2"},"color":{"field":"s","type":"nominal","legend":null}}},
{"data":{"values":[{"x":0.515,"y":0.278,"l":"risk score (AUC=0.736)"},{"x":0.515,"y":0.224,"l":"T (AUC=0.335)"},{"x":0.515,"y":0.172,"l":"N (AUC=0.452)"},{"x":0.515,"y":0.119,"l":"M (AUC=0.497)"},{"x":0.515,"y":0.066,"l":"PSA (AUC=0.537)"},{"x":0.515,"y":0.011,"l":"Gleasonscore (AUC=0.524)"}]},"mark":{"type":"text","fontSize":11,"align":"left","baseline":"middle","color":"#222"},"encoding":{"text":{"field":"l"}}},
{"data":{"values":[{"x":0.005,"y":0.983,"l":"3-years"}]},"mark":{"type":"text","fontSize":15,"align":"left","baseline":"middle","color":"#222"},"encoding":{"text":{"field":"l"}}},
{"data":{"values":[{"x":-0.04,"x2":1.04,"y":-0.04,"y2":1.04}]},"mark":{"type":"rect","fillOpacity":0,"stroke":"black","strokeWidth":2.5},"encoding":{"x2":{"field":"x2"},"y2":{"field":"y2"}}}
]},
{"encoding":{"x":{"field":"x","type":"quantitative","scale":{"domain":[-0.04,1.04],"range":[814,1121.5]},"axis":{"orient":"bottom","offset":-60,"values":[0,0.2,0.4,0.6,0.8,1],"format":".1f","title":null,"labelFontSize":14.5,"labelColor":"#333","tickSize":7,"tickWidth":1.5,"labelPadding":6}},"y":{"field":"y","type":"quantitative","scale":{"domain":[-0.04,1.04],"range":[1994,1710]},"axis":{"orient":"left","offset":-814,"values":[0,0.2,0.4,0.6,0.8,1],"format":".1f","title":null,"labelFontSize":14.5,"labelColor":"#333","tickSize":7,"tickWidth":1.5,"labelPadding":6,"labelAngle":-90,"labelAlign":"center","labelBaseline":"bottom"}}},"layer":[
{"data":{"values":[{"x":-0.04,"y":-0.04},{"x":1.04,"y":1.04}]},"mark":{"type":"line","color":"black","strokeWidth":1.5}},
{"data":{"values":[{"s":"T","x":0,"y":0},{"s":"T","x":0.1,"y":0.04},{"s":"T","x":0.27,"y":0.115},{"s":"T","x":0.7,"y":0.52},{"s":"T","x":0.85,"y":0.72},{"s":"T","x":1,"y":1},{"s":"N","x":0,"y":0},{"s":"N","x":0.4,"y":0.41},{"s":"N","x":1,"y":1},{"s":"M","x":0,"y":0},{"s":"M","x":0.5,"y":0.49},{"s":"M","x":1,"y":1},{"s":"PSA","x":0,"y":0},{"s":"PSA","x":0.05,"y":0},{"s":"PSA","x":0.055,"y":0.02},{"s":"PSA","x":0.085,"y":0.02},{"s":"PSA","x":0.09,"y":0.045},{"s":"PSA","x":0.095,"y":0.1},{"s":"PSA","x":0.125,"y":0.13},{"s":"PSA","x":0.15,"y":0.19},{"s":"PSA","x":0.178,"y":0.18},{"s":"PSA","x":0.18,"y":0.25},{"s":"PSA","x":0.2,"y":0.24},{"s":"PSA","x":0.21,"y":0.27},{"s":"PSA","x":0.4,"y":0.44},{"s":"PSA","x":0.59,"y":0.6},{"s":"PSA","x":0.6,"y":0.63},{"s":"PSA","x":0.62,"y":0.63},{"s":"PSA","x":0.625,"y":0.665},{"s":"PSA","x":0.66,"y":0.71},{"s":"PSA","x":0.78,"y":0.81},{"s":"PSA","x":0.82,"y":0.81},{"s":"PSA","x":0.84,"y":0.855},{"s":"PSA","x":0.96,"y":0.86},{"s":"PSA","x":1,"y":1},{"s":"Gleason","x":0,"y":0},{"s":"Gleason","x":0.5,"y":0.51},{"s":"Gleason","x":0.85,"y":0.82},{"s":"Gleason","x":0.93,"y":0.9},{"s":"Gleason","x":1,"y":1},{"s":"risk","x":0,"y":0},{"s":"risk","x":0.002,"y":0.14},{"s":"risk","x":0.015,"y":0.14},{"s":"risk","x":0.017,"y":0.18},{"s":"risk","x":0.03,"y":0.18},{"s":"risk","x":0.032,"y":0.3},{"s":"risk","x":0.045,"y":0.32},{"s":"risk","x":0.06,"y":0.34},{"s":"risk","x":0.08,"y":0.36},{"s":"risk","x":0.1,"y":0.375},{"s":"risk","x":0.105,"y":0.42},{"s":"risk","x":0.14,"y":0.42},{"s":"risk","x":0.15,"y":0.47},{"s":"risk","x":0.16,"y":0.505},{"s":"risk","x":0.18,"y":0.5},{"s":"risk","x":0.19,"y":0.53},{"s":"risk","x":0.25,"y":0.53},{"s":"risk","x":0.29,"y":0.53},{"s":"risk","x":0.3,"y":0.585},{"s":"risk","x":0.34,"y":0.59},{"s":"risk","x":0.35,"y":0.62},{"s":"risk","x":0.38,"y":0.625},{"s":"risk","x":0.39,"y":0.66},{"s":"risk","x":0.415,"y":0.66},{"s":"risk","x":0.42,"y":0.69},{"s":"risk","x":0.46,"y":0.685},{"s":"risk","x":0.47,"y":0.74},{"s":"risk","x":0.48,"y":0.785},{"s":"risk","x":0.51,"y":0.8},{"s":"risk","x":0.55,"y":0.81},{"s":"risk","x":0.62,"y":0.795},{"s":"risk","x":0.635,"y":0.86},{"s":"risk","x":0.655,"y":0.88},{"s":"risk","x":0.72,"y":0.875},{"s":"risk","x":0.73,"y":0.9},{"s":"risk","x":0.85,"y":0.9},{"s":"risk","x":0.87,"y":0.925},{"s":"risk","x":0.9,"y":0.925},{"s":"risk","x":0.91,"y":0.955},{"s":"risk","x":0.94,"y":0.945},{"s":"risk","x":0.945,"y":0.99},{"s":"risk","x":1,"y":1}]},"mark":{"type":"line","strokeWidth":2.3},"encoding":{"color":{"field":"s","type":"nominal","legend":null,"scale":{"domain":["risk","T","N","M","PSA","Gleason"],"range":["#ED2024","#E8E337","#6DB53E","#6BC8D4","#1F58A8","#A855A5"]}}}},
{"data":{"name":"rleg"},"mark":{"type":"rule","strokeWidth":2.5},"encoding":{"x2":{"field":"x2"},"color":{"field":"s","type":"nominal","legend":null}}},
{"data":{"values":[{"x":0.518,"y":0.278,"l":"risk score (AUC=0.703)"},{"x":0.518,"y":0.224,"l":"T (AUC=0.380)"},{"x":0.518,"y":0.172,"l":"N (AUC=0.508)"},{"x":0.518,"y":0.119,"l":"M (AUC=0.497)"},{"x":0.518,"y":0.066,"l":"PSA (AUC=0.514)"},{"x":0.518,"y":0.011,"l":"Gleasonscore (AUC=0.510)"}]},"mark":{"type":"text","fontSize":11,"align":"left","baseline":"middle","color":"#222"},"encoding":{"text":{"field":"l"}}},
{"data":{"values":[{"x":-0.03,"y":0.983,"l":"5-years"}]},"mark":{"type":"text","fontSize":15,"align":"left","baseline":"middle","color":"#222"},"encoding":{"text":{"field":"l"}}},
{"data":{"values":[{"x":-0.04,"x2":1.04,"y":-0.04,"y2":1.04}]},"mark":{"type":"rect","fillOpacity":0,"stroke":"black","strokeWidth":2.5},"encoding":{"x2":{"field":"x2"},"y2":{"field":"y2"}}}
]},
{"encoding":{"x":{"field":"x","type":"quantitative","scale":{"domain":[-0.04,1.04],"range":[1175,1485]},"axis":{"orient":"bottom","offset":-59,"values":[0,0.2,0.4,0.6,0.8,1],"format":".1f","title":null,"labelFontSize":14.5,"labelColor":"#333","tickSize":7,"tickWidth":1.5,"labelPadding":6}},"y":{"field":"y","type":"quantitative","scale":{"domain":[-0.04,1.04],"range":[1995,1710.7]},"axis":{"orient":"left","offset":-1175,"values":[0,0.2,0.4,0.6,0.8,1],"format":".1f","title":null,"labelFontSize":14.5,"labelColor":"#333","tickSize":7,"tickWidth":1.5,"labelPadding":6,"labelAngle":-90,"labelAlign":"center","labelBaseline":"bottom"}}},"layer":[
{"data":{"values":[{"x":-0.04,"y":-0.04},{"x":1.04,"y":1.04}]},"mark":{"type":"line","color":"black","strokeWidth":1.5}},
{"data":{"values":[{"s":"T","x":0,"y":0},{"s":"T","x":0.7,"y":0.57},{"s":"T","x":0.8,"y":0.72},{"s":"T","x":1,"y":1},{"s":"N","x":0,"y":0},{"s":"N","x":1,"y":1},{"s":"M","x":0,"y":0},{"s":"M","x":1,"y":1},{"s":"PSA","x":0,"y":0},{"s":"PSA","x":0.034,"y":0},{"s":"PSA","x":0.035,"y":0.085},{"s":"PSA","x":0.05,"y":0.08},{"s":"PSA","x":0.055,"y":0.15},{"s":"PSA","x":0.09,"y":0.18},{"s":"PSA","x":0.105,"y":0.21},{"s":"PSA","x":0.13,"y":0.245},{"s":"PSA","x":0.16,"y":0.235},{"s":"PSA","x":0.175,"y":0.335},{"s":"PSA","x":0.25,"y":0.39},{"s":"PSA","x":0.58,"y":0.6},{"s":"PSA","x":0.6,"y":0.63},{"s":"PSA","x":0.62,"y":0.64},{"s":"PSA","x":0.65,"y":0.71},{"s":"PSA","x":0.74,"y":0.76},{"s":"PSA","x":0.8,"y":0.8},{"s":"PSA","x":0.82,"y":0.875},{"s":"PSA","x":0.95,"y":0.91},{"s":"PSA","x":1,"y":1},{"s":"Gleason","x":0,"y":0},{"s":"Gleason","x":0.35,"y":0.415},{"s":"Gleason","x":0.6,"y":0.6},{"s":"Gleason","x":0.94,"y":0.835},{"s":"Gleason","x":1,"y":1},{"s":"risk","x":0,"y":0},{"s":"risk","x":0.002,"y":0.11},{"s":"risk","x":0.015,"y":0.105},{"s":"risk","x":0.02,"y":0.16},{"s":"risk","x":0.025,"y":0.25},{"s":"risk","x":0.04,"y":0.275},{"s":"risk","x":0.06,"y":0.3},{"s":"risk","x":0.09,"y":0.325},{"s":"risk","x":0.105,"y":0.34},{"s":"risk","x":0.11,"y":0.385},{"s":"risk","x":0.13,"y":0.41},{"s":"risk","x":0.14,"y":0.47},{"s":"risk","x":0.15,"y":0.475},{"s":"risk","x":0.165,"y":0.5},{"s":"risk","x":0.2,"y":0.49},{"s":"risk","x":0.25,"y":0.51},{"s":"risk","x":0.29,"y":0.505},{"s":"risk","x":0.295,"y":0.545},{"s":"risk","x":0.33,"y":0.55},{"s":"risk","x":0.34,"y":0.57},{"s":"risk","x":0.37,"y":0.59},{"s":"risk","x":0.39,"y":0.635},{"s":"risk","x":0.43,"y":0.625},{"s":"risk","x":0.47,"y":0.63},{"s":"risk","x":0.48,"y":0.7},{"s":"risk","x":0.51,"y":0.71},{"s":"risk","x":0.525,"y":0.76},{"s":"risk","x":0.62,"y":0.755},{"s":"risk","x":0.63,"y":0.845},{"s":"risk","x":0.65,"y":0.86},{"s":"risk","x":0.72,"y":0.855},{"s":"risk","x":0.74,"y":0.88},{"s":"risk","x":0.81,"y":0.885},{"s":"risk","x":0.82,"y":0.915},{"s":"risk","x":0.85,"y":0.92},{"s":"risk","x":0.86,"y":0.945},{"s":"risk","x":0.92,"y":0.945},{"s":"risk","x":0.93,"y":0.99},{"s":"risk","x":1,"y":1}]},"mark":{"type":"line","strokeWidth":2.3},"encoding":{"color":{"field":"s","type":"nominal","legend":null,"scale":{"domain":["risk","T","N","M","PSA","Gleason"],"range":["#ED2024","#E8E337","#6DB53E","#6BC8D4","#1F58A8","#A855A5"]}}}},
{"data":{"name":"rleg"},"mark":{"type":"rule","strokeWidth":2.5},"encoding":{"x2":{"field":"x2"},"color":{"field":"s","type":"nominal","legend":null}}},
{"data":{"values":[{"x":0.517,"y":0.278,"l":"risk score (AUC=0.677)"},{"x":0.517,"y":0.224,"l":"T (AUC=0.428)"},{"x":0.517,"y":0.172,"l":"N (AUC=0.497)"},{"x":0.517,"y":0.119,"l":"M (AUC=0.497)"},{"x":0.517,"y":0.066,"l":"PSA (AUC=0.558)"},{"x":0.517,"y":0.011,"l":"Gleasonscore (AUC=0.500)"}]},"mark":{"type":"text","fontSize":11,"align":"left","baseline":"middle","color":"#222"},"encoding":{"text":{"field":"l"}}},
{"data":{"values":[{"x":-0.015,"y":0.983,"l":"7-years"}]},"mark":{"type":"text","fontSize":15,"align":"left","baseline":"middle","color":"#222"},"encoding":{"text":{"field":"l"}}},
{"data":{"values":[{"x":-0.04,"x2":1.04,"y":-0.04,"y2":1.04}]},"mark":{"type":"rect","fillOpacity":0,"stroke":"black","strokeWidth":2.5},"encoding":{"x2":{"field":"x2"},"y2":{"field":"y2"}}}
]}
]}
